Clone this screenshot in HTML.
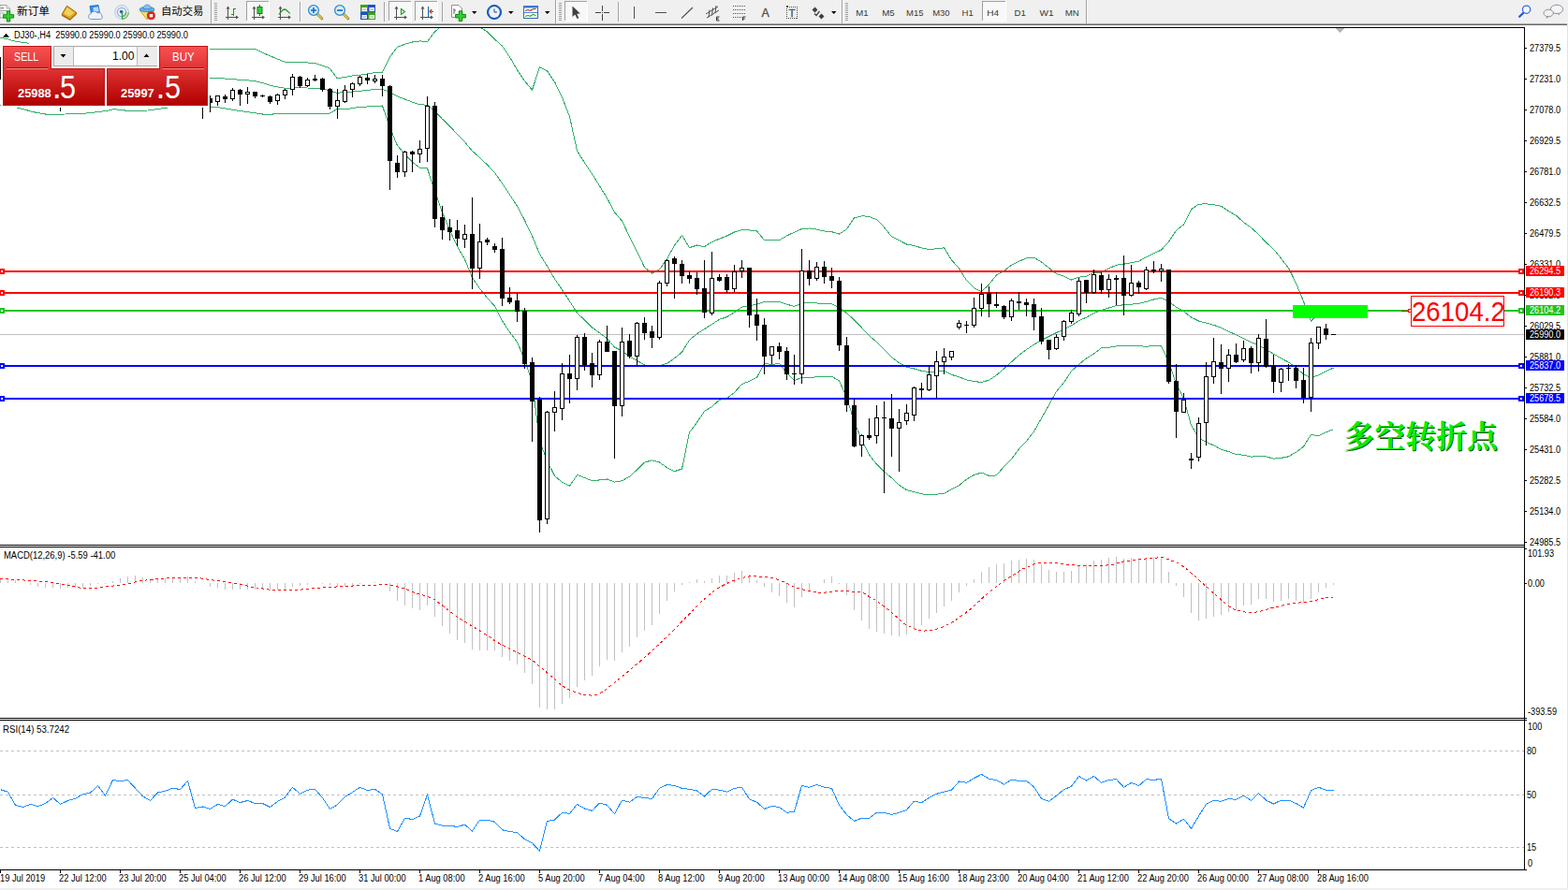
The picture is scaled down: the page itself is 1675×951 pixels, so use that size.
<!DOCTYPE html>
<html><head><meta charset="utf-8"><title>DJ30 H4</title>
<style>
html,body{margin:0;padding:0;background:#fff;overflow:hidden}
body{width:1675px;height:951px;position:relative;font-family:"Liberation Sans",sans-serif}
.t{position:absolute;white-space:nowrap;font-family:"Liberation Sans",sans-serif}
.rb{position:absolute;box-sizing:border-box;border:1px solid #b81414}
</style></head><body>
<div style="position:absolute;left:0;top:0;width:1675px;height:25px;background:#f0f0f0"></div>
<div style="position:absolute;left:0;top:25px;width:1674px;height:1px;background:#a8a8a8"></div>
<div style="position:absolute;left:0;top:26px;width:1674px;height:1px;background:#696969"></div>
<div style="position:absolute;left:1674px;top:25px;width:1px;height:926px;background:#e3e3e3"></div>
<div style="position:absolute;left:0;top:949px;width:1675px;height:2px;background:#f0f0f0"></div>
<svg width="1675" height="26" viewBox="0 0 1675 26" style="position:absolute;left:0;top:0"><path d="M0,5.5 H7 L10.5,9 V19 H0 Z" fill="#fff" stroke="#a0a0a0" stroke-width="1"/><path d="M7,5.5 V9 H10.5" fill="#e8e8e8" stroke="#a0a0a0" stroke-width="0.8"/><rect x="1" y="8" width="3" height="1.2" fill="#808080"/><rect x="1" y="11" width="6" height="1" fill="#a0a0a0"/><rect x="1" y="13.5" width="4" height="1" fill="#a0a0a0"/><path d="M7.3,11.8 h3.4 v3.9 h3.9 v3.4 h-3.9 v3.9 h-3.4 v-3.9 h-3.9 v-3.4 h3.9 z" fill="#30d030" stroke="#0a8a0a" stroke-width="1"/><text x="18" y="15.7" font-family="'Liberation Sans','Noto Sans CJK SC',sans-serif" font-size="11.7" fill="#000" textLength="35" lengthAdjust="spacingAndGlyphs">新订单</text><path d="M71.5,6.3 L82,13.8 L74.8,20.6 L66,15.5 Z" fill="#e0a828" stroke="#986808" stroke-width="1"/><path d="M71.8,8 L79.5,13.6 L74.2,17.6 L68.2,14.6 Z" fill="#f4d058"/><path d="M66,15.5 L74.8,20.6 L82,13.8 L82,15.2 L74.8,22 L66,16.9 Z" fill="#a87010"/><path d="M96,6.5 L105,5.5 L106.5,14 L97.5,15 Z" fill="#3090f0" stroke="#1060c0" stroke-width="0.8"/><path d="M99.5,8 L105,7.3 L105.6,12.3 L100,13 Z" fill="#b8dcff"/><path d="M96.5,20.5 a3,3 0 0 1 0.5,-5.8 a4,4 0 0 1 7,-0.8 a3.3,3.3 0 0 1 4.8,3.2 a2.2,2.2 0 0 1 -1,3.4 Z" fill="#eef3fa" stroke="#7090c0" stroke-width="0.9"/><circle cx="130" cy="13" r="7.3" fill="none" stroke="#b8d0ec" stroke-width="1.2"/><circle cx="130" cy="13" r="4.6" fill="none" stroke="#88b0e0" stroke-width="1.3"/><path d="M130.8,20.3 a7.3,7.3 0 0 0 6.5,-7.3" fill="none" stroke="#80c080" stroke-width="1.5"/><path d="M130.8,17.6 a4.6,4.6 0 0 0 3.8,-4.6" fill="none" stroke="#60b060" stroke-width="1.4"/><circle cx="129.6" cy="12.6" r="1.8" fill="#2860c8"/><rect x="129.9" y="13.2" width="1.5" height="7.6" fill="#30b030"/><path d="M149.5,11.5 L164.8,11.5 L157,20.8 Z" fill="#f8de68" stroke="#c89818" stroke-width="0.9"/><ellipse cx="157" cy="10" rx="7.9" ry="2.7" fill="#68b0e4" stroke="#3884c4" stroke-width="0.8"/><path d="M153,9.6 a4.2,4.6 0 0 1 8.4,0 Z" fill="#80c4f0" stroke="#3884c4" stroke-width="0.7"/><circle cx="161.4" cy="16.7" r="4.1" fill="#e02818" stroke="#a81008" stroke-width="0.6"/><rect x="159.7" y="15" width="3.5" height="3.4" fill="#fff"/><text x="172" y="15.7" font-family="'Liberation Sans','Noto Sans CJK SC',sans-serif" font-size="11.5" fill="#000" textLength="45.5" lengthAdjust="spacingAndGlyphs">自动交易</text><rect x="225" y="0" width="1" height="25" fill="#a0a0a0"/><rect x="226" y="0" width="1" height="25" fill="#fff"/><rect x="229" y="3" width="3" height="1" fill="#a0a0a0"/><rect x="229" y="5" width="3" height="1" fill="#a0a0a0"/><rect x="229" y="7" width="3" height="1" fill="#a0a0a0"/><rect x="229" y="9" width="3" height="1" fill="#a0a0a0"/><rect x="229" y="11" width="3" height="1" fill="#a0a0a0"/><rect x="229" y="13" width="3" height="1" fill="#a0a0a0"/><rect x="229" y="15" width="3" height="1" fill="#a0a0a0"/><rect x="229" y="17" width="3" height="1" fill="#a0a0a0"/><rect x="229" y="19" width="3" height="1" fill="#a0a0a0"/><rect x="229" y="21" width="3" height="1" fill="#a0a0a0"/><g shape-rendering="crispEdges"><rect x="243" y="8" width="1" height="13" fill="#505050"/><rect x="241" y="18" width="13" height="1" fill="#505050"/></g><polygon points="243.5,6.5 241.5,9.5 245.5,9.5" fill="#505050"/><polygon points="255,18.5 252,16.5 252,20.5" fill="#505050"/><g shape-rendering="crispEdges"><rect x="249" y="9" width="1.2" height="7.5" fill="#209020"/><rect x="250" y="9.3" width="2" height="1.1" fill="#209020"/><rect x="247.4" y="15.2" width="2.4" height="1.1" fill="#209020"/></g><rect x="263" y="1" width="25" height="22" fill="#f8f8f8"/><rect x="263" y="1" width="25" height="1" fill="#a0a0a0"/><rect x="263" y="1" width="1" height="22" fill="#a0a0a0"/><rect x="263" y="22" width="25" height="1" fill="#fff"/><rect x="287" y="1" width="1" height="22" fill="#fff"/><g shape-rendering="crispEdges"><rect x="271" y="8" width="1" height="13" fill="#505050"/><rect x="269" y="18" width="13" height="1" fill="#505050"/></g><polygon points="271.5,6.5 269.5,9.5 273.5,9.5" fill="#505050"/><polygon points="283,18.5 280,16.5 280,20.5" fill="#505050"/><rect x="277" y="5" width="1" height="12" fill="#108010"/><rect x="275" y="7.5" width="5" height="7" fill="#30d040" stroke="#108010" stroke-width="1"/><g shape-rendering="crispEdges"><rect x="299" y="8" width="1" height="13" fill="#505050"/><rect x="297" y="18" width="13" height="1" fill="#505050"/></g><polygon points="299.5,6.5 297.5,9.5 301.5,9.5" fill="#505050"/><polygon points="311,18.5 308,16.5 308,20.5" fill="#505050"/><path d="M298,15.5 C301,11 303.5,9 305.5,10.5 S309,14.5 310,14" fill="none" stroke="#209020" stroke-width="1.3"/><rect x="320" y="2" width="1" height="21" fill="#a0a0a0"/><rect x="321" y="2" width="1" height="21" fill="#fff"/><line x1="338.5" y1="14.5" x2="343.8" y2="19.8" stroke="#a88820" stroke-width="3" stroke-linecap="round"/><line x1="339" y1="15" x2="343.5" y2="19.5" stroke="#e8d060" stroke-width="1.2" stroke-linecap="round"/><circle cx="335" cy="11" r="5.4" fill="#d8ecf8" stroke="#3088d0" stroke-width="1.3"/><rect x="332" y="10.2" width="6" height="1.7" fill="#2070c0"/><rect x="334.15" y="8" width="1.7" height="6" fill="#2070c0"/><line x1="366.5" y1="14.5" x2="371.8" y2="19.8" stroke="#a88820" stroke-width="3" stroke-linecap="round"/><line x1="367" y1="15" x2="371.5" y2="19.5" stroke="#e8d060" stroke-width="1.2" stroke-linecap="round"/><circle cx="363" cy="11" r="5.4" fill="#d8ecf8" stroke="#3088d0" stroke-width="1.3"/><rect x="360" y="10.2" width="6" height="1.7" fill="#2070c0"/><rect x="385" y="5" width="8" height="8" fill="#40a020"/><rect x="393" y="5" width="8" height="8" fill="#2050c8"/><rect x="385" y="13" width="8" height="8" fill="#2050c8"/><rect x="393" y="13" width="8" height="8" fill="#40a020"/><rect x="386.5" y="8" width="5.5" height="4" fill="#fff" opacity="0.92"/><rect x="387.5" y="9.6" width="3.5" height="0.9" fill="#7aa"/><rect x="394.5" y="8" width="5.5" height="4" fill="#fff" opacity="0.92"/><rect x="395.5" y="9.6" width="3.5" height="0.9" fill="#7aa"/><rect x="386.5" y="16" width="5.5" height="4" fill="#fff" opacity="0.92"/><rect x="387.5" y="17.6" width="3.5" height="0.9" fill="#7aa"/><rect x="394.5" y="16" width="5.5" height="4" fill="#fff" opacity="0.92"/><rect x="395.5" y="17.6" width="3.5" height="0.9" fill="#7aa"/><rect x="410" y="2" width="1" height="21" fill="#a0a0a0"/><rect x="411" y="2" width="1" height="21" fill="#fff"/><rect x="415" y="1" width="25" height="22" fill="#f8f8f8"/><rect x="415" y="1" width="25" height="1" fill="#a0a0a0"/><rect x="415" y="1" width="1" height="22" fill="#a0a0a0"/><rect x="415" y="22" width="25" height="1" fill="#fff"/><rect x="439" y="1" width="1" height="22" fill="#fff"/><g shape-rendering="crispEdges"><rect x="423" y="8" width="1" height="13" fill="#505050"/><rect x="421" y="18" width="13" height="1" fill="#505050"/></g><polygon points="423.5,6.5 421.5,9.5 425.5,9.5" fill="#505050"/><polygon points="435,18.5 432,16.5 432,20.5" fill="#505050"/><path d="M428.5,9.5 L432.5,12.5 L428.5,15.5 Z" fill="#e8f8e8" stroke="#20a020" stroke-width="1.1"/><rect x="443" y="1" width="25" height="22" fill="#f8f8f8"/><rect x="443" y="1" width="25" height="1" fill="#a0a0a0"/><rect x="443" y="1" width="1" height="22" fill="#a0a0a0"/><rect x="443" y="22" width="25" height="1" fill="#fff"/><rect x="467" y="1" width="1" height="22" fill="#fff"/><g shape-rendering="crispEdges"><rect x="451" y="8" width="1" height="13" fill="#505050"/><rect x="449" y="18" width="13" height="1" fill="#505050"/></g><polygon points="451.5,6.5 449.5,9.5 453.5,9.5" fill="#505050"/><polygon points="463,18.5 460,16.5 460,20.5" fill="#505050"/><rect x="457" y="7" width="1.2" height="11" fill="#2070b0"/><path d="M463,12.3 L459,12.3 M461.3,10 L459,12.3 L461.3,14.6" fill="none" stroke="#d04010" stroke-width="1.2"/><rect x="472" y="2" width="1" height="21" fill="#a0a0a0"/><rect x="473" y="2" width="1" height="21" fill="#fff"/><path d="M482.5,5.5 H490 L493.5,9 V18.5 H482.5 Z" fill="#fff" stroke="#909090" stroke-width="1"/><path d="M485,9 v6 M485,11 h2" stroke="#606060" stroke-width="1" fill="none"/><path d="M490.3,11.8 h3.4 v3.7 h3.7 v3.4 h-3.7 v3.7 h-3.4 v-3.7 h-3.7 v-3.4 h3.7 z" fill="#30d030" stroke="#0a8a0a" stroke-width="1"/><polygon points="504,12 509.5,12 506.75,15" fill="#000"/><circle cx="528" cy="13" r="7.6" fill="#1060c8"/><circle cx="528" cy="13" r="7.6" fill="none" stroke="#0848a0" stroke-width="0.8"/><circle cx="528" cy="13" r="5.9" fill="#eaf2fc"/><path d="M528,9.5 V13 H531" stroke="#404040" stroke-width="1" fill="none"/><polygon points="543,12 548.5,12 545.75,15" fill="#000"/><rect x="559.5" y="6.5" width="15" height="13" fill="#fff" stroke="#3068c0" stroke-width="1"/><rect x="559" y="6" width="16" height="2.5" fill="#3878d8"/><rect x="560" y="13" width="14" height="0.8" fill="#3068c0"/><path d="M561,11.5 l3,-1 l2.5,0.8 l3,-1.5 l3,-0.3" stroke="#b03020" stroke-width="1.1" fill="none"/><path d="M561,17.5 l3,-1 l2.5,0.8 l3,-2 l3,1.5" stroke="#20a030" stroke-width="1.1" fill="none"/><polygon points="582,12 587.5,12 584.75,15" fill="#000"/><rect x="593" y="0" width="1" height="25" fill="#a0a0a0"/><rect x="594" y="0" width="1" height="25" fill="#fff"/><rect x="597" y="3" width="3" height="1" fill="#a0a0a0"/><rect x="597" y="5" width="3" height="1" fill="#a0a0a0"/><rect x="597" y="7" width="3" height="1" fill="#a0a0a0"/><rect x="597" y="9" width="3" height="1" fill="#a0a0a0"/><rect x="597" y="11" width="3" height="1" fill="#a0a0a0"/><rect x="597" y="13" width="3" height="1" fill="#a0a0a0"/><rect x="597" y="15" width="3" height="1" fill="#a0a0a0"/><rect x="597" y="17" width="3" height="1" fill="#a0a0a0"/><rect x="597" y="19" width="3" height="1" fill="#a0a0a0"/><rect x="597" y="21" width="3" height="1" fill="#a0a0a0"/><rect x="603" y="1" width="25" height="22" fill="#f8f8f8"/><rect x="603" y="1" width="25" height="1" fill="#a0a0a0"/><rect x="603" y="1" width="1" height="22" fill="#a0a0a0"/><rect x="603" y="22" width="25" height="1" fill="#fff"/><rect x="627" y="1" width="1" height="22" fill="#fff"/><path d="M611.5,6.5 V18 L614.3,15.4 L616.5,20 L618.3,19.2 L616.2,14.8 L619.8,14.6 Z" fill="#404040"/><g shape-rendering="crispEdges"><rect x="643" y="6" width="1" height="16" fill="#404040"/><rect x="636" y="13" width="15" height="1" fill="#404040"/><rect x="642" y="12" width="3" height="3" fill="#f0f0f0"/><rect x="643" y="13" width="1" height="1" fill="#404040"/></g><rect x="660" y="2" width="1" height="21" fill="#a0a0a0"/><rect x="661" y="2" width="1" height="21" fill="#fff"/><g shape-rendering="crispEdges"><rect x="677" y="7" width="1" height="13" fill="#505050"/><rect x="700" y="13" width="12" height="1" fill="#505050"/></g><line x1="728" y1="19.5" x2="740" y2="8" stroke="#505050" stroke-width="1.1"/><g stroke="#505050" stroke-width="1" fill="none"><line x1="754" y1="15" x2="767" y2="7"/><line x1="755" y1="19" x2="768" y2="11"/><line x1="758" y1="10.5" x2="757" y2="18.5"/><line x1="761.5" y1="8.5" x2="760.5" y2="16.5"/><line x1="765" y1="6" x2="764" y2="14"/></g><path d="M765.5,18 h3 M765.5,18 v4 h3 M765.5,20 h2.4" stroke="#303030" stroke-width="1" fill="none"/><line x1="783" y1="6.5" x2="797" y2="6.5" stroke="#505050" stroke-width="1" stroke-dasharray="1 1" shape-rendering="crispEdges"/><line x1="783" y1="10.5" x2="797" y2="10.5" stroke="#505050" stroke-width="1" stroke-dasharray="1 1" shape-rendering="crispEdges"/><line x1="783" y1="14.5" x2="797" y2="14.5" stroke="#505050" stroke-width="1" stroke-dasharray="1 1" shape-rendering="crispEdges"/><line x1="783" y1="18.5" x2="797" y2="18.5" stroke="#505050" stroke-width="1" stroke-dasharray="1 1" shape-rendering="crispEdges"/><rect x="792" y="17" width="6" height="6" fill="#f0f0f0"/><path d="M793.5,22 v-4 h3 M793.5,20 h2.4" stroke="#303030" stroke-width="1" fill="none"/><text x="813.6" y="18" font-family="Liberation Sans" font-size="12.5" fill="#505050" stroke="#505050" stroke-width="0.3">A</text><rect x="840.5" y="7.5" width="11" height="12" fill="none" stroke="#505050" stroke-width="1" stroke-dasharray="1 1" shape-rendering="crispEdges"/><text x="842.6" y="18" font-family="Liberation Sans" font-size="11.5" fill="#505050" stroke="#505050" stroke-width="0.3">T</text><rect x="840" y="6" width="2" height="2" fill="#505050"/><path d="M867.5,10.5 l3,-3 l3,3 l-3,3 z" fill="#404040"/><path d="M874.5,17.5 l3,-3 l3,3 l-3,3 z" fill="#404040"/><path d="M870,14.5 l2,2 l3.5,-4.5" stroke="#404040" stroke-width="1.3" fill="none"/><polygon points="888,12 893.5,12 890.75,15" fill="#000"/><rect x="899" y="0" width="1" height="25" fill="#a0a0a0"/><rect x="900" y="0" width="1" height="25" fill="#fff"/><rect x="903" y="3" width="3" height="1" fill="#a0a0a0"/><rect x="903" y="5" width="3" height="1" fill="#a0a0a0"/><rect x="903" y="7" width="3" height="1" fill="#a0a0a0"/><rect x="903" y="9" width="3" height="1" fill="#a0a0a0"/><rect x="903" y="11" width="3" height="1" fill="#a0a0a0"/><rect x="903" y="13" width="3" height="1" fill="#a0a0a0"/><rect x="903" y="15" width="3" height="1" fill="#a0a0a0"/><rect x="903" y="17" width="3" height="1" fill="#a0a0a0"/><rect x="903" y="19" width="3" height="1" fill="#a0a0a0"/><rect x="903" y="21" width="3" height="1" fill="#a0a0a0"/><rect x="1049" y="1" width="26" height="22" fill="#f8f8f8"/><rect x="1049" y="1" width="26" height="1" fill="#a0a0a0"/><rect x="1049" y="1" width="1" height="22" fill="#a0a0a0"/><rect x="1049" y="22" width="26" height="1" fill="#fff"/><rect x="1074" y="1" width="1" height="22" fill="#fff"/><text x="914.3000000000001" y="16.9" font-family="Liberation Sans" font-size="9.4" fill="#383838" textLength="13.3" lengthAdjust="spacingAndGlyphs">M1</text><text x="942.2" y="16.9" font-family="Liberation Sans" font-size="9.4" fill="#383838" textLength="13.4" lengthAdjust="spacingAndGlyphs">M5</text><text x="968.1" y="16.9" font-family="Liberation Sans" font-size="9.4" fill="#383838" textLength="18.4" lengthAdjust="spacingAndGlyphs">M15</text><text x="996.2" y="16.9" font-family="Liberation Sans" font-size="9.4" fill="#383838" textLength="18.4" lengthAdjust="spacingAndGlyphs">M30</text><text x="1027.5" y="16.9" font-family="Liberation Sans" font-size="9.4" fill="#383838" textLength="12.2" lengthAdjust="spacingAndGlyphs">H1</text><text x="1054.1999999999998" y="16.9" font-family="Liberation Sans" font-size="9.4" fill="#383838" textLength="12.9" lengthAdjust="spacingAndGlyphs">H4</text><text x="1083.5" y="16.9" font-family="Liberation Sans" font-size="9.4" fill="#383838" textLength="12.2" lengthAdjust="spacingAndGlyphs">D1</text><text x="1110.6" y="16.9" font-family="Liberation Sans" font-size="9.4" fill="#383838" textLength="15.1" lengthAdjust="spacingAndGlyphs">W1</text><text x="1137.8" y="16.9" font-family="Liberation Sans" font-size="9.4" fill="#383838" textLength="15.0" lengthAdjust="spacingAndGlyphs">MN</text><rect x="1160" y="0" width="1" height="25" fill="#a0a0a0"/><rect x="1161" y="0" width="1" height="25" fill="#fff"/><line x1="1627.3" y1="13.7" x2="1623.2" y2="17.8" stroke="#2858d8" stroke-width="2.3" stroke-linecap="round"/><circle cx="1630.6" cy="10.2" r="4.1" fill="#f8f8ff" stroke="#3068e0" stroke-width="1.25"/><path d="M1665,14.3 l1.2,2.2 l-2.8,-2 Z" fill="#707070"/><ellipse cx="1663" cy="9.9" rx="6.6" ry="4.7" fill="#f4f4fa" stroke="#909090" stroke-width="1"/><path d="M1652.5,17.3 l-1,2.6 l3,-2.2 Z" fill="#707070"/><ellipse cx="1654.2" cy="14" rx="5.2" ry="3.8" fill="#f0f0f6" stroke="#909090" stroke-width="1"/></svg>
<svg width="1675" height="951" viewBox="0 0 1675 951" style="position:absolute;left:0;top:0" shape-rendering="crispEdges">
<defs><clipPath id="cm"><rect x="0" y="30" width="1628" height="552"/></clipPath></defs>
<rect x="0" y="357" width="1628" height="1" fill="#c0c0c0"/>
<g clip-path="url(#cm)"><g><polyline points="0.0,40.6 6.4,41.2 14.3,43.8 30.8,46.3 33.0,50.5 120.0,56.0 216.0,53.0 224.0,52.5 273.0,52.5 280.0,56.0 288.0,59.5 296.0,63.0 304.0,66.0 320.0,66.6 336.0,67.3 344.0,69.9 352.0,72.8 360.0,83.6 368.0,82.6 376.0,81.0 384.5,80.2 392.5,78.9 400.5,77.6 408.5,77.3 416.5,61.0 424.5,50.3 432.5,47.2 440.5,45.0 448.5,43.9 456.5,44.6 464.5,33.8 472.5,27.5 480.5,24.0 488.5,23.5 496.5,26.2 504.5,25.8 512.5,28.6 520.5,33.9 528.5,42.0 536.5,49.1 544.5,60.9 552.5,74.9 560.5,86.6 568.5,96.2 576.5,71.6 584.5,75.9 592.5,87.5 600.5,104.1 608.5,124.5 616.5,161.2 624.5,173.9 632.5,185.9 640.5,198.7 648.5,211.7 656.5,226.9 664.5,236.1 672.5,252.9 680.5,268.8 688.5,285.6 696.5,292.0 704.5,287.9 712.5,276.8 720.5,262.1 728.5,251.4 736.5,264.7 744.5,262.0 752.5,263.7 760.5,258.5 768.5,255.2 776.5,252.0 784.5,248.0 792.5,245.7 800.5,245.9 808.5,247.0 816.5,256.6 824.5,256.1 832.5,256.7 840.5,251.9 848.5,248.2 856.5,244.5 864.5,244.0 872.5,245.1 880.5,247.0 888.5,247.7 896.5,250.1 904.5,244.9 912.5,232.9 920.5,230.8 928.5,231.3 936.5,234.8 944.5,242.8 952.5,252.8 960.5,256.9 968.5,261.0 976.5,262.5 984.5,264.9 992.5,266.5 1000.5,265.8 1008.5,264.8 1016.5,277.9 1024.5,286.8 1032.5,299.7 1040.5,307.7 1048.5,311.6 1056.5,304.0 1064.5,293.8 1072.5,289.5 1080.5,283.2 1088.5,279.4 1096.5,275.7 1104.5,275.2 1112.5,280.0 1120.5,286.3 1128.5,292.6 1136.5,295.2 1144.5,299.0 1152.5,296.2 1160.5,295.4 1168.5,291.3 1176.5,291.0 1184.5,286.8 1192.5,283.2 1200.5,282.2 1208.5,280.7 1216.5,279.1 1224.5,274.6 1232.5,270.7 1240.5,267.1 1248.5,258.2 1256.5,246.2 1264.5,239.9 1272.5,223.7 1280.5,218.2 1288.5,217.8 1296.5,218.7 1304.5,220.3 1312.5,225.7 1320.5,230.2 1328.5,237.5 1336.5,243.3 1344.5,250.4 1352.5,259.2 1360.5,266.2 1368.5,276.2 1376.5,286.4 1384.5,302.7 1392.5,322.1 1400.5,343.0 1408.5,335.7 1416.5,331.5 1424.5,327.5" fill="none" stroke="#32ae68" stroke-width="1" /><polyline points="0.0,78.0 100.0,80.0 224.0,83.6 240.0,84.0 256.0,85.2 272.0,86.5 280.0,88.5 288.0,91.0 296.0,92.9 304.0,94.2 312.0,94.4 320.0,93.0 328.0,94.0 344.0,94.4 352.0,97.0 360.0,99.3 368.0,98.6 376.0,98.0 384.5,97.3 392.5,96.4 400.5,95.4 408.5,95.2 416.5,98.7 424.5,102.9 432.5,106.0 440.5,109.1 448.5,111.7 456.5,112.2 464.5,119.1 472.5,127.2 480.5,135.0 488.5,143.4 496.5,151.7 504.5,161.3 512.5,168.5 520.5,176.1 528.5,184.5 536.5,196.0 544.5,207.9 552.5,220.3 560.5,235.4 568.5,252.3 576.5,271.5 584.5,284.3 592.5,298.0 600.5,309.7 608.5,321.9 616.5,334.3 624.5,342.1 632.5,349.9 640.5,355.8 648.5,361.8 656.5,371.0 664.5,374.9 672.5,381.0 680.5,385.4 688.5,389.8 696.5,391.9 704.5,390.9 712.5,388.3 720.5,382.9 728.5,376.2 736.5,363.3 744.5,356.7 752.5,351.6 760.5,346.5 768.5,341.3 776.5,338.7 784.5,333.8 792.5,328.1 800.5,326.6 808.5,325.2 816.5,322.5 824.5,322.8 832.5,322.5 840.5,325.2 848.5,327.4 856.5,323.9 864.5,323.6 872.5,324.0 880.5,324.7 888.5,324.9 896.5,328.5 904.5,334.7 912.5,341.8 920.5,350.2 928.5,358.6 936.5,365.5 944.5,373.3 952.5,381.8 960.5,387.6 968.5,392.3 976.5,394.0 984.5,396.3 992.5,397.6 1000.5,397.0 1008.5,396.1 1016.5,400.4 1024.5,402.8 1032.5,405.9 1040.5,407.6 1048.5,408.4 1056.5,406.2 1064.5,400.9 1072.5,394.0 1080.5,386.8 1088.5,379.6 1096.5,373.5 1104.5,368.1 1112.5,363.5 1120.5,359.5 1128.5,355.5 1136.5,351.9 1144.5,347.8 1152.5,342.8 1160.5,339.1 1168.5,334.7 1176.5,331.4 1184.5,329.0 1192.5,326.6 1200.5,325.8 1208.5,325.2 1216.5,324.4 1224.5,322.5 1232.5,320.0 1240.5,318.3 1248.5,322.5 1256.5,328.2 1264.5,332.7 1272.5,339.1 1280.5,343.0 1288.5,345.1 1296.5,347.3 1304.5,350.2 1312.5,354.2 1320.5,357.8 1328.5,361.8 1336.5,365.8 1344.5,368.9 1352.5,373.6 1360.5,378.2 1368.5,382.8 1376.5,387.1 1384.5,393.0 1392.5,399.7 1400.5,403.7 1408.5,400.8 1416.5,396.7 1424.5,393.1" fill="none" stroke="#32ae68" stroke-width="1" /><polyline points="0.0,112.5 3.0,111.8 16.0,112.6 18.6,115.1 35.8,119.7 50.2,122.3 70.0,122.0 91.7,121.1 114.6,118.3 121.8,116.6 136.0,118.3 157.6,118.0 179.0,115.1 190.0,113.0 200.0,111.0 212.0,111.5 224.0,114.1 232.0,114.6 252.0,117.8 268.0,120.2 286.0,122.8 295.0,121.5 340.0,121.5 352.0,121.2 360.0,116.6 371.0,116.6 376.0,115.6 384.5,114.3 392.5,114.0 400.5,113.2 408.5,113.0 416.5,136.4 424.5,155.6 432.5,164.7 440.5,173.2 448.5,179.4 456.5,179.9 464.5,204.3 472.5,226.9 480.5,246.0 488.5,263.4 496.5,277.2 504.5,296.8 512.5,308.4 520.5,318.3 528.5,327.1 536.5,342.8 544.5,355.0 552.5,365.6 560.5,384.3 568.5,408.3 576.5,471.3 584.5,492.7 592.5,508.5 600.5,515.4 608.5,519.4 616.5,507.5 624.5,510.4 632.5,513.8 640.5,512.9 648.5,512.0 656.5,515.1 664.5,513.8 672.5,509.2 680.5,502.0 688.5,494.1 696.5,491.9 704.5,494.0 712.5,499.7 720.5,503.7 728.5,501.0 736.5,462.0 744.5,451.4 752.5,439.5 760.5,434.5 768.5,427.4 776.5,425.4 784.5,419.5 792.5,410.5 800.5,407.3 808.5,403.4 816.5,388.5 824.5,389.5 832.5,388.3 840.5,398.5 848.5,406.7 856.5,403.3 864.5,403.3 872.5,402.9 880.5,402.3 888.5,402.2 896.5,406.9 904.5,424.5 912.5,450.8 920.5,469.7 928.5,485.9 936.5,496.2 944.5,503.8 952.5,510.8 960.5,518.3 968.5,523.6 976.5,525.6 984.5,527.8 992.5,528.7 1000.5,528.1 1008.5,527.4 1016.5,522.8 1024.5,518.8 1032.5,512.1 1040.5,507.5 1048.5,505.1 1056.5,508.4 1064.5,507.9 1072.5,498.5 1080.5,490.4 1088.5,479.8 1096.5,471.4 1104.5,461.1 1112.5,446.9 1120.5,432.8 1128.5,418.3 1136.5,408.7 1144.5,396.6 1152.5,389.4 1160.5,382.9 1168.5,378.1 1176.5,371.8 1184.5,371.3 1192.5,369.9 1200.5,369.5 1208.5,369.8 1216.5,369.6 1224.5,370.3 1232.5,369.3 1240.5,369.6 1248.5,386.9 1256.5,410.3 1264.5,425.5 1272.5,454.4 1280.5,467.8 1288.5,472.5 1296.5,475.8 1304.5,480.2 1312.5,482.6 1320.5,485.5 1328.5,486.2 1336.5,488.2 1344.5,487.4 1352.5,487.9 1360.5,490.1 1368.5,489.4 1376.5,487.8 1384.5,483.2 1392.5,477.3 1400.5,464.3 1408.5,465.8 1416.5,461.8 1424.5,458.8" fill="none" stroke="#32ae68" stroke-width="1" /></g>
<rect x="0" y="289" width="1628" height="2" fill="#ff0000"/>
<rect x="-1" y="287" width="6" height="6" fill="#ff0000"/><rect x="1" y="289" width="2" height="2" fill="#fff"/>
<rect x="1622" y="287" width="6" height="6" fill="#ff0000"/><rect x="1624" y="289" width="2" height="2" fill="#fff"/>
<rect x="0" y="312" width="1628" height="2" fill="#ff0000"/>
<rect x="-1" y="310" width="6" height="6" fill="#ff0000"/><rect x="1" y="312" width="2" height="2" fill="#fff"/>
<rect x="1622" y="310" width="6" height="6" fill="#ff0000"/><rect x="1624" y="312" width="2" height="2" fill="#fff"/>
<rect x="0" y="331" width="1628" height="2" fill="#22c322"/>
<rect x="-1" y="329" width="6" height="6" fill="#22c322"/><rect x="1" y="331" width="2" height="2" fill="#fff"/>
<rect x="1622" y="329" width="6" height="6" fill="#22c322"/><rect x="1624" y="331" width="2" height="2" fill="#fff"/>
<rect x="0" y="390" width="1628" height="2" fill="#0000ff"/>
<rect x="-1" y="388" width="6" height="6" fill="#0000ff"/><rect x="1" y="390" width="2" height="2" fill="#fff"/>
<rect x="1622" y="388" width="6" height="6" fill="#0000ff"/><rect x="1624" y="390" width="2" height="2" fill="#fff"/>
<rect x="0" y="425" width="1628" height="2" fill="#0000ff"/>
<rect x="-1" y="423" width="6" height="6" fill="#0000ff"/><rect x="1" y="425" width="2" height="2" fill="#fff"/>
<rect x="1622" y="423" width="6" height="6" fill="#0000ff"/><rect x="1624" y="425" width="2" height="2" fill="#fff"/>
<rect x="224" y="102" width="1" height="18" fill="#000"/>
<rect x="222" y="105" width="5" height="5" fill="#000"/>
<rect x="232" y="102" width="1" height="11" fill="#000"/>
<rect x="230" y="102" width="5" height="7" fill="#000"/>
<rect x="231" y="103" width="3" height="5" fill="#fff"/>
<rect x="240" y="101" width="1" height="9" fill="#000"/>
<rect x="238" y="103" width="5" height="3" fill="#000"/>
<rect x="248" y="94" width="1" height="14" fill="#000"/>
<rect x="246" y="96" width="5" height="10" fill="#000"/>
<rect x="247" y="97" width="3" height="8" fill="#fff"/>
<rect x="256" y="95" width="1" height="18" fill="#000"/>
<rect x="254" y="96" width="5" height="5" fill="#000"/>
<rect x="264" y="93" width="1" height="18" fill="#000"/>
<rect x="262" y="98" width="5" height="3" fill="#000"/>
<rect x="263" y="99" width="3" height="1" fill="#fff"/>
<rect x="272" y="98" width="1" height="7" fill="#000"/>
<rect x="270" y="98" width="5" height="5" fill="#000"/>
<rect x="280" y="101" width="1" height="3" fill="#000"/>
<rect x="278" y="102" width="5" height="1" fill="#000"/>
<rect x="288" y="102" width="1" height="9" fill="#000"/>
<rect x="286" y="103" width="5" height="6" fill="#000"/>
<rect x="296" y="100" width="1" height="12" fill="#000"/>
<rect x="294" y="101" width="5" height="7" fill="#000"/>
<rect x="295" y="102" width="3" height="5" fill="#fff"/>
<rect x="304" y="95" width="1" height="11" fill="#000"/>
<rect x="302" y="96" width="5" height="6" fill="#000"/>
<rect x="303" y="97" width="3" height="4" fill="#fff"/>
<rect x="312" y="79" width="1" height="23" fill="#000"/>
<rect x="310" y="82" width="5" height="14" fill="#000"/>
<rect x="311" y="83" width="3" height="12" fill="#fff"/>
<rect x="320" y="81" width="1" height="13" fill="#000"/>
<rect x="318" y="82" width="5" height="10" fill="#000"/>
<rect x="328" y="83" width="1" height="10" fill="#000"/>
<rect x="326" y="85" width="5" height="7" fill="#000"/>
<rect x="327" y="86" width="3" height="5" fill="#fff"/>
<rect x="336" y="80" width="1" height="7" fill="#000"/>
<rect x="334" y="84" width="5" height="2" fill="#000"/>
<rect x="344" y="83" width="1" height="15" fill="#000"/>
<rect x="342" y="84" width="5" height="12" fill="#000"/>
<rect x="352" y="94" width="1" height="23" fill="#000"/>
<rect x="350" y="95" width="5" height="19" fill="#000"/>
<rect x="360" y="95" width="1" height="32" fill="#000"/>
<rect x="358" y="107" width="5" height="7" fill="#000"/>
<rect x="359" y="108" width="3" height="5" fill="#fff"/>
<rect x="368" y="91" width="1" height="19" fill="#000"/>
<rect x="366" y="96" width="5" height="13" fill="#000"/>
<rect x="367" y="97" width="3" height="11" fill="#fff"/>
<rect x="376" y="88" width="1" height="16" fill="#000"/>
<rect x="374" y="89" width="5" height="7" fill="#000"/>
<rect x="375" y="90" width="3" height="5" fill="#fff"/>
<rect x="384" y="81" width="1" height="11" fill="#000"/>
<rect x="382" y="82" width="5" height="8" fill="#000"/>
<rect x="383" y="83" width="3" height="6" fill="#fff"/>
<rect x="392" y="79" width="1" height="11" fill="#000"/>
<rect x="390" y="83" width="5" height="3" fill="#000"/>
<rect x="400" y="80" width="1" height="9" fill="#000"/>
<rect x="398" y="84" width="5" height="3" fill="#000"/>
<rect x="399" y="85" width="3" height="1" fill="#fff"/>
<rect x="408" y="80" width="1" height="23" fill="#000"/>
<rect x="406" y="84" width="5" height="8" fill="#000"/>
<rect x="416" y="91" width="1" height="112" fill="#000"/>
<rect x="414" y="92" width="5" height="80" fill="#000"/>
<rect x="424" y="166" width="1" height="24" fill="#000"/>
<rect x="422" y="174" width="5" height="10" fill="#000"/>
<rect x="432" y="161" width="1" height="28" fill="#000"/>
<rect x="430" y="162" width="5" height="22" fill="#000"/>
<rect x="431" y="163" width="3" height="20" fill="#fff"/>
<rect x="440" y="161" width="1" height="23" fill="#000"/>
<rect x="438" y="162" width="5" height="3" fill="#000"/>
<rect x="448" y="150" width="1" height="24" fill="#000"/>
<rect x="446" y="159" width="5" height="6" fill="#000"/>
<rect x="447" y="160" width="3" height="4" fill="#fff"/>
<rect x="456" y="103" width="1" height="70" fill="#000"/>
<rect x="454" y="113" width="5" height="46" fill="#000"/>
<rect x="455" y="114" width="3" height="44" fill="#fff"/>
<rect x="464" y="109" width="1" height="134" fill="#000"/>
<rect x="462" y="113" width="5" height="121" fill="#000"/>
<rect x="472" y="220" width="1" height="36" fill="#000"/>
<rect x="470" y="232" width="5" height="14" fill="#000"/>
<rect x="480" y="234" width="1" height="23" fill="#000"/>
<rect x="478" y="243" width="5" height="5" fill="#000"/>
<rect x="488" y="235" width="1" height="28" fill="#000"/>
<rect x="486" y="246" width="5" height="9" fill="#000"/>
<rect x="496" y="240" width="1" height="25" fill="#000"/>
<rect x="494" y="250" width="5" height="6" fill="#000"/>
<rect x="495" y="251" width="3" height="4" fill="#fff"/>
<rect x="504" y="211" width="1" height="98" fill="#000"/>
<rect x="502" y="250" width="5" height="37" fill="#000"/>
<rect x="512" y="239" width="1" height="59" fill="#000"/>
<rect x="510" y="258" width="5" height="29" fill="#000"/>
<rect x="511" y="259" width="3" height="27" fill="#fff"/>
<rect x="520" y="254" width="1" height="8" fill="#000"/>
<rect x="518" y="256" width="5" height="3" fill="#000"/>
<rect x="528" y="260" width="1" height="10" fill="#000"/>
<rect x="526" y="263" width="5" height="4" fill="#000"/>
<rect x="536" y="254" width="1" height="73" fill="#000"/>
<rect x="534" y="266" width="5" height="53" fill="#000"/>
<rect x="544" y="307" width="1" height="18" fill="#000"/>
<rect x="542" y="318" width="5" height="5" fill="#000"/>
<rect x="552" y="313" width="1" height="31" fill="#000"/>
<rect x="550" y="321" width="5" height="12" fill="#000"/>
<rect x="560" y="329" width="1" height="65" fill="#000"/>
<rect x="558" y="332" width="5" height="57" fill="#000"/>
<rect x="568" y="382" width="1" height="90" fill="#000"/>
<rect x="566" y="387" width="5" height="42" fill="#000"/>
<rect x="576" y="424" width="1" height="145" fill="#000"/>
<rect x="574" y="427" width="5" height="129" fill="#000"/>
<rect x="584" y="439" width="1" height="121" fill="#000"/>
<rect x="582" y="440" width="5" height="115" fill="#000"/>
<rect x="583" y="441" width="3" height="113" fill="#fff"/>
<rect x="592" y="418" width="1" height="43" fill="#000"/>
<rect x="590" y="435" width="5" height="6" fill="#000"/>
<rect x="591" y="436" width="3" height="4" fill="#fff"/>
<rect x="600" y="388" width="1" height="61" fill="#000"/>
<rect x="598" y="399" width="5" height="38" fill="#000"/>
<rect x="599" y="400" width="3" height="36" fill="#fff"/>
<rect x="608" y="379" width="1" height="52" fill="#000"/>
<rect x="606" y="399" width="5" height="6" fill="#000"/>
<rect x="616" y="358" width="1" height="59" fill="#000"/>
<rect x="614" y="360" width="5" height="45" fill="#000"/>
<rect x="615" y="361" width="3" height="43" fill="#fff"/>
<rect x="624" y="356" width="1" height="40" fill="#000"/>
<rect x="622" y="360" width="5" height="30" fill="#000"/>
<rect x="632" y="377" width="1" height="37" fill="#000"/>
<rect x="630" y="388" width="5" height="13" fill="#000"/>
<rect x="640" y="363" width="1" height="43" fill="#000"/>
<rect x="638" y="365" width="5" height="36" fill="#000"/>
<rect x="639" y="366" width="3" height="34" fill="#fff"/>
<rect x="648" y="348" width="1" height="28" fill="#000"/>
<rect x="646" y="365" width="5" height="11" fill="#000"/>
<rect x="656" y="375" width="1" height="115" fill="#000"/>
<rect x="654" y="375" width="5" height="59" fill="#000"/>
<rect x="664" y="350" width="1" height="95" fill="#000"/>
<rect x="662" y="365" width="5" height="69" fill="#000"/>
<rect x="663" y="366" width="3" height="67" fill="#fff"/>
<rect x="672" y="357" width="1" height="26" fill="#000"/>
<rect x="670" y="364" width="5" height="17" fill="#000"/>
<rect x="680" y="344" width="1" height="46" fill="#000"/>
<rect x="678" y="345" width="5" height="36" fill="#000"/>
<rect x="679" y="346" width="3" height="34" fill="#fff"/>
<rect x="688" y="339" width="1" height="24" fill="#000"/>
<rect x="686" y="345" width="5" height="11" fill="#000"/>
<rect x="696" y="348" width="1" height="24" fill="#000"/>
<rect x="694" y="354" width="5" height="7" fill="#000"/>
<rect x="704" y="300" width="1" height="63" fill="#000"/>
<rect x="702" y="302" width="5" height="59" fill="#000"/>
<rect x="703" y="303" width="3" height="57" fill="#fff"/>
<rect x="712" y="277" width="1" height="29" fill="#000"/>
<rect x="710" y="278" width="5" height="25" fill="#000"/>
<rect x="711" y="279" width="3" height="23" fill="#fff"/>
<rect x="720" y="274" width="1" height="45" fill="#000"/>
<rect x="718" y="276" width="5" height="6" fill="#000"/>
<rect x="728" y="278" width="1" height="25" fill="#000"/>
<rect x="726" y="282" width="5" height="13" fill="#000"/>
<rect x="736" y="290" width="1" height="13" fill="#000"/>
<rect x="734" y="294" width="5" height="4" fill="#000"/>
<rect x="744" y="291" width="1" height="24" fill="#000"/>
<rect x="742" y="297" width="5" height="12" fill="#000"/>
<rect x="752" y="278" width="1" height="62" fill="#000"/>
<rect x="750" y="308" width="5" height="26" fill="#000"/>
<rect x="760" y="269" width="1" height="68" fill="#000"/>
<rect x="758" y="297" width="5" height="38" fill="#000"/>
<rect x="759" y="298" width="3" height="36" fill="#fff"/>
<rect x="768" y="293" width="1" height="8" fill="#000"/>
<rect x="766" y="296" width="5" height="4" fill="#000"/>
<rect x="776" y="293" width="1" height="20" fill="#000"/>
<rect x="774" y="296" width="5" height="14" fill="#000"/>
<rect x="784" y="283" width="1" height="29" fill="#000"/>
<rect x="782" y="290" width="5" height="19" fill="#000"/>
<rect x="783" y="291" width="3" height="17" fill="#fff"/>
<rect x="792" y="278" width="1" height="19" fill="#000"/>
<rect x="790" y="286" width="5" height="4" fill="#000"/>
<rect x="791" y="287" width="3" height="2" fill="#fff"/>
<rect x="800" y="286" width="1" height="64" fill="#000"/>
<rect x="798" y="286" width="5" height="51" fill="#000"/>
<rect x="808" y="319" width="1" height="45" fill="#000"/>
<rect x="806" y="336" width="5" height="12" fill="#000"/>
<rect x="816" y="340" width="1" height="60" fill="#000"/>
<rect x="814" y="347" width="5" height="34" fill="#000"/>
<rect x="824" y="370" width="1" height="19" fill="#000"/>
<rect x="822" y="370" width="5" height="10" fill="#000"/>
<rect x="823" y="371" width="3" height="8" fill="#fff"/>
<rect x="832" y="366" width="1" height="18" fill="#000"/>
<rect x="830" y="370" width="5" height="6" fill="#000"/>
<rect x="840" y="371" width="1" height="35" fill="#000"/>
<rect x="838" y="375" width="5" height="25" fill="#000"/>
<rect x="848" y="379" width="1" height="32" fill="#000"/>
<rect x="846" y="399" width="5" height="1" fill="#000"/>
<rect x="856" y="266" width="1" height="144" fill="#000"/>
<rect x="854" y="289" width="5" height="111" fill="#000"/>
<rect x="855" y="290" width="3" height="109" fill="#fff"/>
<rect x="864" y="278" width="1" height="27" fill="#000"/>
<rect x="862" y="289" width="5" height="9" fill="#000"/>
<rect x="872" y="280" width="1" height="20" fill="#000"/>
<rect x="870" y="285" width="5" height="13" fill="#000"/>
<rect x="871" y="286" width="3" height="11" fill="#fff"/>
<rect x="880" y="279" width="1" height="24" fill="#000"/>
<rect x="878" y="285" width="5" height="11" fill="#000"/>
<rect x="888" y="286" width="1" height="22" fill="#000"/>
<rect x="886" y="295" width="5" height="5" fill="#000"/>
<rect x="896" y="296" width="1" height="79" fill="#000"/>
<rect x="894" y="300" width="5" height="69" fill="#000"/>
<rect x="904" y="360" width="1" height="80" fill="#000"/>
<rect x="902" y="369" width="5" height="64" fill="#000"/>
<rect x="912" y="426" width="1" height="52" fill="#000"/>
<rect x="910" y="433" width="5" height="44" fill="#000"/>
<rect x="920" y="464" width="1" height="24" fill="#000"/>
<rect x="918" y="465" width="5" height="11" fill="#000"/>
<rect x="919" y="466" width="3" height="9" fill="#fff"/>
<rect x="928" y="447" width="1" height="23" fill="#000"/>
<rect x="926" y="465" width="5" height="3" fill="#000"/>
<rect x="936" y="433" width="1" height="41" fill="#000"/>
<rect x="934" y="446" width="5" height="20" fill="#000"/>
<rect x="935" y="447" width="3" height="18" fill="#fff"/>
<rect x="944" y="429" width="1" height="98" fill="#000"/>
<rect x="942" y="446" width="5" height="1" fill="#000"/>
<rect x="952" y="421" width="1" height="67" fill="#000"/>
<rect x="950" y="447" width="5" height="11" fill="#000"/>
<rect x="960" y="437" width="1" height="67" fill="#000"/>
<rect x="958" y="451" width="5" height="7" fill="#000"/>
<rect x="959" y="452" width="3" height="5" fill="#fff"/>
<rect x="968" y="432" width="1" height="22" fill="#000"/>
<rect x="966" y="441" width="5" height="9" fill="#000"/>
<rect x="967" y="442" width="3" height="7" fill="#fff"/>
<rect x="976" y="413" width="1" height="37" fill="#000"/>
<rect x="974" y="414" width="5" height="30" fill="#000"/>
<rect x="975" y="415" width="3" height="28" fill="#fff"/>
<rect x="984" y="409" width="1" height="18" fill="#000"/>
<rect x="982" y="415" width="5" height="2" fill="#000"/>
<rect x="992" y="391" width="1" height="27" fill="#000"/>
<rect x="990" y="400" width="5" height="17" fill="#000"/>
<rect x="991" y="401" width="3" height="15" fill="#fff"/>
<rect x="1000" y="375" width="1" height="50" fill="#000"/>
<rect x="998" y="386" width="5" height="16" fill="#000"/>
<rect x="999" y="387" width="3" height="14" fill="#fff"/>
<rect x="1008" y="372" width="1" height="28" fill="#000"/>
<rect x="1006" y="381" width="5" height="6" fill="#000"/>
<rect x="1007" y="382" width="3" height="4" fill="#fff"/>
<rect x="1016" y="375" width="1" height="10" fill="#000"/>
<rect x="1014" y="375" width="5" height="7" fill="#000"/>
<rect x="1015" y="376" width="3" height="5" fill="#fff"/>
<rect x="1024" y="342" width="1" height="10" fill="#000"/>
<rect x="1022" y="345" width="5" height="5" fill="#000"/>
<rect x="1023" y="346" width="3" height="3" fill="#fff"/>
<rect x="1032" y="343" width="1" height="13" fill="#000"/>
<rect x="1030" y="347" width="5" height="1" fill="#000"/>
<rect x="1040" y="318" width="1" height="32" fill="#000"/>
<rect x="1038" y="329" width="5" height="19" fill="#000"/>
<rect x="1039" y="330" width="3" height="17" fill="#fff"/>
<rect x="1048" y="303" width="1" height="35" fill="#000"/>
<rect x="1046" y="314" width="5" height="16" fill="#000"/>
<rect x="1047" y="315" width="3" height="14" fill="#fff"/>
<rect x="1056" y="306" width="1" height="33" fill="#000"/>
<rect x="1054" y="313" width="5" height="12" fill="#000"/>
<rect x="1064" y="312" width="1" height="17" fill="#000"/>
<rect x="1062" y="325" width="5" height="2" fill="#000"/>
<rect x="1072" y="326" width="1" height="15" fill="#000"/>
<rect x="1070" y="327" width="5" height="12" fill="#000"/>
<rect x="1080" y="319" width="1" height="24" fill="#000"/>
<rect x="1078" y="321" width="5" height="18" fill="#000"/>
<rect x="1079" y="322" width="3" height="16" fill="#fff"/>
<rect x="1088" y="312" width="1" height="19" fill="#000"/>
<rect x="1086" y="322" width="5" height="2" fill="#000"/>
<rect x="1096" y="319" width="1" height="19" fill="#000"/>
<rect x="1094" y="323" width="5" height="3" fill="#000"/>
<rect x="1104" y="319" width="1" height="34" fill="#000"/>
<rect x="1102" y="325" width="5" height="14" fill="#000"/>
<rect x="1112" y="329" width="1" height="39" fill="#000"/>
<rect x="1110" y="338" width="5" height="27" fill="#000"/>
<rect x="1120" y="363" width="1" height="21" fill="#000"/>
<rect x="1118" y="363" width="5" height="11" fill="#000"/>
<rect x="1128" y="357" width="1" height="17" fill="#000"/>
<rect x="1126" y="360" width="5" height="13" fill="#000"/>
<rect x="1127" y="361" width="3" height="11" fill="#fff"/>
<rect x="1136" y="342" width="1" height="22" fill="#000"/>
<rect x="1134" y="343" width="5" height="17" fill="#000"/>
<rect x="1135" y="344" width="3" height="15" fill="#fff"/>
<rect x="1144" y="331" width="1" height="15" fill="#000"/>
<rect x="1142" y="334" width="5" height="10" fill="#000"/>
<rect x="1143" y="335" width="3" height="8" fill="#fff"/>
<rect x="1152" y="297" width="1" height="41" fill="#000"/>
<rect x="1150" y="300" width="5" height="36" fill="#000"/>
<rect x="1151" y="301" width="3" height="34" fill="#fff"/>
<rect x="1160" y="299" width="1" height="25" fill="#000"/>
<rect x="1158" y="299" width="5" height="14" fill="#000"/>
<rect x="1168" y="288" width="1" height="26" fill="#000"/>
<rect x="1166" y="293" width="5" height="20" fill="#000"/>
<rect x="1167" y="294" width="3" height="18" fill="#fff"/>
<rect x="1176" y="291" width="1" height="23" fill="#000"/>
<rect x="1174" y="294" width="5" height="16" fill="#000"/>
<rect x="1184" y="293" width="1" height="25" fill="#000"/>
<rect x="1182" y="298" width="5" height="12" fill="#000"/>
<rect x="1183" y="299" width="3" height="10" fill="#fff"/>
<rect x="1192" y="294" width="1" height="32" fill="#000"/>
<rect x="1190" y="297" width="5" height="2" fill="#000"/>
<rect x="1200" y="273" width="1" height="64" fill="#000"/>
<rect x="1198" y="297" width="5" height="19" fill="#000"/>
<rect x="1208" y="283" width="1" height="34" fill="#000"/>
<rect x="1206" y="302" width="5" height="14" fill="#000"/>
<rect x="1207" y="303" width="3" height="12" fill="#fff"/>
<rect x="1216" y="300" width="1" height="14" fill="#000"/>
<rect x="1214" y="302" width="5" height="5" fill="#000"/>
<rect x="1224" y="285" width="1" height="25" fill="#000"/>
<rect x="1222" y="288" width="5" height="21" fill="#000"/>
<rect x="1223" y="289" width="3" height="19" fill="#fff"/>
<rect x="1232" y="279" width="1" height="13" fill="#000"/>
<rect x="1230" y="288" width="5" height="2" fill="#000"/>
<rect x="1240" y="282" width="1" height="19" fill="#000"/>
<rect x="1238" y="287" width="5" height="3" fill="#000"/>
<rect x="1239" y="288" width="3" height="1" fill="#fff"/>
<rect x="1248" y="288" width="1" height="122" fill="#000"/>
<rect x="1246" y="288" width="5" height="120" fill="#000"/>
<rect x="1256" y="389" width="1" height="79" fill="#000"/>
<rect x="1254" y="407" width="5" height="33" fill="#000"/>
<rect x="1264" y="420" width="1" height="21" fill="#000"/>
<rect x="1262" y="427" width="5" height="14" fill="#000"/>
<rect x="1263" y="428" width="3" height="12" fill="#fff"/>
<rect x="1272" y="484" width="1" height="17" fill="#000"/>
<rect x="1270" y="490" width="5" height="2" fill="#000"/>
<rect x="1280" y="446" width="1" height="47" fill="#000"/>
<rect x="1278" y="452" width="5" height="37" fill="#000"/>
<rect x="1279" y="453" width="3" height="35" fill="#fff"/>
<rect x="1288" y="387" width="1" height="89" fill="#000"/>
<rect x="1286" y="402" width="5" height="50" fill="#000"/>
<rect x="1287" y="403" width="3" height="48" fill="#fff"/>
<rect x="1296" y="361" width="1" height="49" fill="#000"/>
<rect x="1294" y="386" width="5" height="17" fill="#000"/>
<rect x="1295" y="387" width="3" height="15" fill="#fff"/>
<rect x="1304" y="368" width="1" height="53" fill="#000"/>
<rect x="1302" y="387" width="5" height="7" fill="#000"/>
<rect x="1312" y="373" width="1" height="35" fill="#000"/>
<rect x="1310" y="379" width="5" height="15" fill="#000"/>
<rect x="1311" y="380" width="3" height="13" fill="#fff"/>
<rect x="1320" y="367" width="1" height="21" fill="#000"/>
<rect x="1318" y="379" width="5" height="8" fill="#000"/>
<rect x="1328" y="364" width="1" height="23" fill="#000"/>
<rect x="1326" y="372" width="5" height="13" fill="#000"/>
<rect x="1327" y="373" width="3" height="11" fill="#fff"/>
<rect x="1336" y="370" width="1" height="29" fill="#000"/>
<rect x="1334" y="372" width="5" height="16" fill="#000"/>
<rect x="1344" y="357" width="1" height="40" fill="#000"/>
<rect x="1342" y="361" width="5" height="27" fill="#000"/>
<rect x="1343" y="362" width="3" height="25" fill="#fff"/>
<rect x="1352" y="341" width="1" height="52" fill="#000"/>
<rect x="1350" y="362" width="5" height="30" fill="#000"/>
<rect x="1360" y="379" width="1" height="41" fill="#000"/>
<rect x="1358" y="391" width="5" height="17" fill="#000"/>
<rect x="1368" y="393" width="1" height="26" fill="#000"/>
<rect x="1366" y="394" width="5" height="15" fill="#000"/>
<rect x="1367" y="395" width="3" height="13" fill="#fff"/>
<rect x="1376" y="389" width="1" height="18" fill="#000"/>
<rect x="1374" y="393" width="5" height="1" fill="#000"/>
<rect x="1384" y="390" width="1" height="25" fill="#000"/>
<rect x="1382" y="393" width="5" height="14" fill="#000"/>
<rect x="1392" y="393" width="1" height="38" fill="#000"/>
<rect x="1390" y="406" width="5" height="19" fill="#000"/>
<rect x="1400" y="361" width="1" height="79" fill="#000"/>
<rect x="1398" y="366" width="5" height="59" fill="#000"/>
<rect x="1399" y="367" width="3" height="57" fill="#fff"/>
<rect x="1408" y="349" width="1" height="24" fill="#000"/>
<rect x="1406" y="349" width="5" height="18" fill="#000"/>
<rect x="1407" y="350" width="3" height="16" fill="#fff"/>
<rect x="1416" y="346" width="1" height="17" fill="#000"/>
<rect x="1414" y="351" width="5" height="7" fill="#000"/>
<rect x="1422" y="357" width="5" height="1" fill="#000"/>
<rect x="0" y="61" width="1" height="24" fill="#000"/>
<rect x="64" y="100" width="1" height="19" fill="#000"/>
<rect x="216" y="100" width="1" height="27" fill="#000"/>
<rect x="1381" y="326" width="80" height="14" fill="#00ff00"/></g>
<rect x="0" y="618" width="1" height="5" fill="#c0c0c0"/>
<rect x="8" y="619" width="1" height="4" fill="#c0c0c0"/>
<rect x="16" y="620" width="1" height="3" fill="#c0c0c0"/>
<rect x="32" y="623" width="1" height="2" fill="#c0c0c0"/>
<rect x="40" y="623" width="1" height="4" fill="#c0c0c0"/>
<rect x="48" y="623" width="1" height="5" fill="#c0c0c0"/>
<rect x="56" y="623" width="1" height="5" fill="#c0c0c0"/>
<rect x="64" y="623" width="1" height="6" fill="#c0c0c0"/>
<rect x="72" y="623" width="1" height="5" fill="#c0c0c0"/>
<rect x="80" y="623" width="1" height="5" fill="#c0c0c0"/>
<rect x="88" y="623" width="1" height="5" fill="#c0c0c0"/>
<rect x="96" y="623" width="1" height="3" fill="#c0c0c0"/>
<rect x="104" y="623" width="1" height="1" fill="#c0c0c0"/>
<rect x="112" y="623" width="1" height="1" fill="#c0c0c0"/>
<rect x="120" y="621" width="1" height="2" fill="#c0c0c0"/>
<rect x="128" y="618" width="1" height="5" fill="#c0c0c0"/>
<rect x="136" y="616" width="1" height="7" fill="#c0c0c0"/>
<rect x="144" y="615" width="1" height="8" fill="#c0c0c0"/>
<rect x="152" y="617" width="1" height="6" fill="#c0c0c0"/>
<rect x="160" y="619" width="1" height="4" fill="#c0c0c0"/>
<rect x="168" y="618" width="1" height="5" fill="#c0c0c0"/>
<rect x="176" y="618" width="1" height="5" fill="#c0c0c0"/>
<rect x="184" y="618" width="1" height="5" fill="#c0c0c0"/>
<rect x="192" y="617" width="1" height="6" fill="#c0c0c0"/>
<rect x="200" y="616" width="1" height="7" fill="#c0c0c0"/>
<rect x="208" y="621" width="1" height="2" fill="#c0c0c0"/>
<rect x="224" y="623" width="1" height="4" fill="#c0c0c0"/>
<rect x="232" y="623" width="1" height="5" fill="#c0c0c0"/>
<rect x="240" y="623" width="1" height="7" fill="#c0c0c0"/>
<rect x="248" y="623" width="1" height="7" fill="#c0c0c0"/>
<rect x="256" y="623" width="1" height="7" fill="#c0c0c0"/>
<rect x="264" y="623" width="1" height="7" fill="#c0c0c0"/>
<rect x="272" y="623" width="1" height="7" fill="#c0c0c0"/>
<rect x="280" y="623" width="1" height="7" fill="#c0c0c0"/>
<rect x="288" y="623" width="1" height="7" fill="#c0c0c0"/>
<rect x="296" y="623" width="1" height="7" fill="#c0c0c0"/>
<rect x="304" y="623" width="1" height="7" fill="#c0c0c0"/>
<rect x="312" y="623" width="1" height="4" fill="#c0c0c0"/>
<rect x="320" y="623" width="1" height="3" fill="#c0c0c0"/>
<rect x="328" y="623" width="1" height="2" fill="#c0c0c0"/>
<rect x="344" y="623" width="1" height="1" fill="#c0c0c0"/>
<rect x="352" y="623" width="1" height="3" fill="#c0c0c0"/>
<rect x="360" y="623" width="1" height="4" fill="#c0c0c0"/>
<rect x="368" y="623" width="1" height="3" fill="#c0c0c0"/>
<rect x="376" y="623" width="1" height="3" fill="#c0c0c0"/>
<rect x="384" y="623" width="1" height="1" fill="#c0c0c0"/>
<rect x="400" y="622" width="1" height="1" fill="#c0c0c0"/>
<rect x="416" y="623" width="1" height="9" fill="#c0c0c0"/>
<rect x="424" y="623" width="1" height="19" fill="#c0c0c0"/>
<rect x="432" y="623" width="1" height="24" fill="#c0c0c0"/>
<rect x="440" y="623" width="1" height="27" fill="#c0c0c0"/>
<rect x="448" y="623" width="1" height="29" fill="#c0c0c0"/>
<rect x="456" y="623" width="1" height="24" fill="#c0c0c0"/>
<rect x="464" y="623" width="1" height="36" fill="#c0c0c0"/>
<rect x="472" y="623" width="1" height="46" fill="#c0c0c0"/>
<rect x="480" y="623" width="1" height="54" fill="#c0c0c0"/>
<rect x="488" y="623" width="1" height="61" fill="#c0c0c0"/>
<rect x="496" y="623" width="1" height="64" fill="#c0c0c0"/>
<rect x="504" y="623" width="1" height="71" fill="#c0c0c0"/>
<rect x="512" y="623" width="1" height="72" fill="#c0c0c0"/>
<rect x="520" y="623" width="1" height="72" fill="#c0c0c0"/>
<rect x="528" y="623" width="1" height="72" fill="#c0c0c0"/>
<rect x="536" y="623" width="1" height="79" fill="#c0c0c0"/>
<rect x="544" y="623" width="1" height="83" fill="#c0c0c0"/>
<rect x="552" y="623" width="1" height="87" fill="#c0c0c0"/>
<rect x="560" y="623" width="1" height="96" fill="#c0c0c0"/>
<rect x="568" y="623" width="1" height="108" fill="#c0c0c0"/>
<rect x="576" y="623" width="1" height="133" fill="#c0c0c0"/>
<rect x="584" y="623" width="1" height="135" fill="#c0c0c0"/>
<rect x="592" y="623" width="1" height="135" fill="#c0c0c0"/>
<rect x="600" y="623" width="1" height="129" fill="#c0c0c0"/>
<rect x="608" y="623" width="1" height="123" fill="#c0c0c0"/>
<rect x="616" y="623" width="1" height="111" fill="#c0c0c0"/>
<rect x="624" y="623" width="1" height="104" fill="#c0c0c0"/>
<rect x="632" y="623" width="1" height="99" fill="#c0c0c0"/>
<rect x="640" y="623" width="1" height="89" fill="#c0c0c0"/>
<rect x="648" y="623" width="1" height="82" fill="#c0c0c0"/>
<rect x="656" y="623" width="1" height="83" fill="#c0c0c0"/>
<rect x="664" y="623" width="1" height="74" fill="#c0c0c0"/>
<rect x="672" y="623" width="1" height="68" fill="#c0c0c0"/>
<rect x="680" y="623" width="1" height="58" fill="#c0c0c0"/>
<rect x="688" y="623" width="1" height="51" fill="#c0c0c0"/>
<rect x="696" y="623" width="1" height="45" fill="#c0c0c0"/>
<rect x="704" y="623" width="1" height="33" fill="#c0c0c0"/>
<rect x="712" y="623" width="1" height="19" fill="#c0c0c0"/>
<rect x="720" y="623" width="1" height="9" fill="#c0c0c0"/>
<rect x="728" y="623" width="1" height="2" fill="#c0c0c0"/>
<rect x="736" y="622" width="1" height="1" fill="#c0c0c0"/>
<rect x="744" y="619" width="1" height="4" fill="#c0c0c0"/>
<rect x="752" y="621" width="1" height="2" fill="#c0c0c0"/>
<rect x="760" y="618" width="1" height="5" fill="#c0c0c0"/>
<rect x="768" y="615" width="1" height="8" fill="#c0c0c0"/>
<rect x="776" y="615" width="1" height="8" fill="#c0c0c0"/>
<rect x="784" y="612" width="1" height="11" fill="#c0c0c0"/>
<rect x="792" y="610" width="1" height="13" fill="#c0c0c0"/>
<rect x="800" y="614" width="1" height="9" fill="#c0c0c0"/>
<rect x="808" y="620" width="1" height="3" fill="#c0c0c0"/>
<rect x="816" y="623" width="1" height="4" fill="#c0c0c0"/>
<rect x="824" y="623" width="1" height="10" fill="#c0c0c0"/>
<rect x="832" y="623" width="1" height="14" fill="#c0c0c0"/>
<rect x="840" y="623" width="1" height="21" fill="#c0c0c0"/>
<rect x="848" y="623" width="1" height="26" fill="#c0c0c0"/>
<rect x="856" y="623" width="1" height="15" fill="#c0c0c0"/>
<rect x="864" y="623" width="1" height="9" fill="#c0c0c0"/>
<rect x="880" y="619" width="1" height="4" fill="#c0c0c0"/>
<rect x="888" y="616" width="1" height="7" fill="#c0c0c0"/>
<rect x="896" y="623" width="1" height="1" fill="#c0c0c0"/>
<rect x="904" y="623" width="1" height="13" fill="#c0c0c0"/>
<rect x="912" y="623" width="1" height="29" fill="#c0c0c0"/>
<rect x="920" y="623" width="1" height="40" fill="#c0c0c0"/>
<rect x="928" y="623" width="1" height="49" fill="#c0c0c0"/>
<rect x="936" y="623" width="1" height="52" fill="#c0c0c0"/>
<rect x="944" y="623" width="1" height="54" fill="#c0c0c0"/>
<rect x="952" y="623" width="1" height="56" fill="#c0c0c0"/>
<rect x="960" y="623" width="1" height="57" fill="#c0c0c0"/>
<rect x="968" y="623" width="1" height="55" fill="#c0c0c0"/>
<rect x="976" y="623" width="1" height="49" fill="#c0c0c0"/>
<rect x="984" y="623" width="1" height="45" fill="#c0c0c0"/>
<rect x="992" y="623" width="1" height="38" fill="#c0c0c0"/>
<rect x="1000" y="623" width="1" height="32" fill="#c0c0c0"/>
<rect x="1008" y="623" width="1" height="25" fill="#c0c0c0"/>
<rect x="1016" y="623" width="1" height="19" fill="#c0c0c0"/>
<rect x="1024" y="623" width="1" height="10" fill="#c0c0c0"/>
<rect x="1032" y="623" width="1" height="3" fill="#c0c0c0"/>
<rect x="1040" y="619" width="1" height="4" fill="#c0c0c0"/>
<rect x="1048" y="611" width="1" height="12" fill="#c0c0c0"/>
<rect x="1056" y="606" width="1" height="17" fill="#c0c0c0"/>
<rect x="1064" y="603" width="1" height="20" fill="#c0c0c0"/>
<rect x="1072" y="602" width="1" height="21" fill="#c0c0c0"/>
<rect x="1080" y="599" width="1" height="24" fill="#c0c0c0"/>
<rect x="1088" y="598" width="1" height="25" fill="#c0c0c0"/>
<rect x="1096" y="597" width="1" height="26" fill="#c0c0c0"/>
<rect x="1104" y="598" width="1" height="25" fill="#c0c0c0"/>
<rect x="1112" y="603" width="1" height="20" fill="#c0c0c0"/>
<rect x="1120" y="609" width="1" height="14" fill="#c0c0c0"/>
<rect x="1128" y="611" width="1" height="12" fill="#c0c0c0"/>
<rect x="1136" y="611" width="1" height="12" fill="#c0c0c0"/>
<rect x="1144" y="610" width="1" height="13" fill="#c0c0c0"/>
<rect x="1152" y="604" width="1" height="19" fill="#c0c0c0"/>
<rect x="1160" y="603" width="1" height="20" fill="#c0c0c0"/>
<rect x="1168" y="599" width="1" height="24" fill="#c0c0c0"/>
<rect x="1176" y="598" width="1" height="25" fill="#c0c0c0"/>
<rect x="1184" y="596" width="1" height="27" fill="#c0c0c0"/>
<rect x="1192" y="595" width="1" height="28" fill="#c0c0c0"/>
<rect x="1200" y="597" width="1" height="26" fill="#c0c0c0"/>
<rect x="1208" y="596" width="1" height="27" fill="#c0c0c0"/>
<rect x="1216" y="597" width="1" height="26" fill="#c0c0c0"/>
<rect x="1224" y="596" width="1" height="27" fill="#c0c0c0"/>
<rect x="1232" y="595" width="1" height="28" fill="#c0c0c0"/>
<rect x="1240" y="595" width="1" height="28" fill="#c0c0c0"/>
<rect x="1248" y="611" width="1" height="12" fill="#c0c0c0"/>
<rect x="1256" y="623" width="1" height="3" fill="#c0c0c0"/>
<rect x="1264" y="623" width="1" height="15" fill="#c0c0c0"/>
<rect x="1272" y="623" width="1" height="32" fill="#c0c0c0"/>
<rect x="1280" y="623" width="1" height="40" fill="#c0c0c0"/>
<rect x="1288" y="623" width="1" height="38" fill="#c0c0c0"/>
<rect x="1296" y="623" width="1" height="36" fill="#c0c0c0"/>
<rect x="1304" y="623" width="1" height="34" fill="#c0c0c0"/>
<rect x="1312" y="623" width="1" height="31" fill="#c0c0c0"/>
<rect x="1320" y="623" width="1" height="28" fill="#c0c0c0"/>
<rect x="1328" y="623" width="1" height="24" fill="#c0c0c0"/>
<rect x="1336" y="623" width="1" height="23" fill="#c0c0c0"/>
<rect x="1344" y="623" width="1" height="17" fill="#c0c0c0"/>
<rect x="1352" y="623" width="1" height="17" fill="#c0c0c0"/>
<rect x="1360" y="623" width="1" height="20" fill="#c0c0c0"/>
<rect x="1368" y="623" width="1" height="19" fill="#c0c0c0"/>
<rect x="1376" y="623" width="1" height="17" fill="#c0c0c0"/>
<rect x="1384" y="623" width="1" height="19" fill="#c0c0c0"/>
<rect x="1392" y="623" width="1" height="21" fill="#c0c0c0"/>
<rect x="1400" y="623" width="1" height="17" fill="#c0c0c0"/>
<rect x="1408" y="623" width="1" height="10" fill="#c0c0c0"/>
<rect x="1416" y="623" width="1" height="5" fill="#c0c0c0"/>
<rect x="1424" y="623" width="1" height="2" fill="#c0c0c0"/>
<polyline points="0.0,618.0 16.7,619.5 33.4,620.4 43.5,621.4 55.0,622.2 67.0,624.2 77.0,625.9 85.0,628.1 93.6,628.4 103.6,628.1 115.0,626.7 127.0,625.4 139.0,623.4 145.4,621.7 152.0,620.4 160.5,619.5 169.0,618.4 182.0,617.5 200.6,617.2 212.0,617.5 224.0,619.5 234.0,620.9 242.4,622.2 252.4,623.7 260.8,625.4 270.8,627.5 288.5,630.2 320.0,630.2 333.0,628.7 351.4,627.4 379.2,625.9 384.7,625.0 403.3,625.0 408.0,624.1 423.6,626.5 432.9,629.2 440.3,632.4 457.0,637.6 464.3,640.7 473.6,647.8 481.0,653.7 488.4,659.2 499.5,666.1 512.5,674.0 523.6,680.9 529.1,685.1 536.5,689.2 553.2,697.7 568.0,705.0 577.4,712.9 588.5,722.2 600.5,732.9 608.0,737.0 616.3,740.1 623.7,742.5 632.0,743.1 637.6,742.1 644.0,739.2 655.1,730.5 668.1,719.9 685.7,705.1 697.7,694.4 716.2,676.8 732.9,659.6 749.5,642.6 762.5,631.5 768.0,627.8 779.1,622.2 790.2,618.0 801.4,615.7 816.2,616.3 827.3,618.1 832.8,620.0 840.2,623.1 849.5,627.8 864.3,631.8 873.5,633.3 881.0,633.1 892.0,631.6 918.0,632.2 923.7,634.4 929.2,638.1 935.7,641.5 942.2,646.1 952.4,654.4 960.7,661.8 965.3,665.9 971.8,669.6 977.3,672.0 984.7,674.2 995.9,673.5 1001.4,672.0 1008.8,669.2 1018.0,664.6 1025.5,659.0 1031.0,655.3 1037.5,650.2 1044.0,644.2 1055.0,634.0 1062.5,628.5 1072.7,620.2 1079.1,616.5 1085.6,612.4 1092.0,608.1 1097.7,606.3 1104.0,603.1 1110.6,601.7 1129.0,601.3 1134.7,602.6 1151.3,604.1 1177.2,604.4 1188.5,603.5 1197.8,600.4 1216.3,597.6 1234.8,596.1 1242.2,595.2 1247.7,597.6 1258.8,602.0 1266.2,606.8 1277.3,616.5 1282.9,621.6 1290.3,628.5 1299.6,636.8 1312.5,647.9 1319.9,652.0 1329.2,653.9 1336.6,655.0 1347.7,652.9 1356.9,650.1 1369.9,647.0 1382.8,644.6 1401.4,642.4 1414.3,639.2 1423.6,638.3" fill="none" stroke="#ff0000" stroke-width="1" stroke-dasharray="3 3"/>
<line x1="0" y1="802.5" x2="1628" y2="802.5" stroke="#c0c0c0" stroke-width="1" stroke-dasharray="3 3"/>
<line x1="0" y1="849.5" x2="1628" y2="849.5" stroke="#c0c0c0" stroke-width="1" stroke-dasharray="3 3"/>
<line x1="0" y1="905.5" x2="1628" y2="905.5" stroke="#c0c0c0" stroke-width="1" stroke-dasharray="3 3"/>
<polyline points="0.5,843.7 8.5,846.3 16.5,860.3 24.5,862.5 32.5,859.4 40.5,861.6 48.5,858.5 56.5,852.4 64.5,859.4 72.5,855.5 80.5,853.3 88.5,848.7 96.5,847.2 104.5,839.4 112.5,850.0 120.5,833.5 128.5,834.8 136.5,833.5 144.5,842.2 152.5,850.9 160.5,855.5 168.5,846.8 176.5,845.3 184.5,842.2 192.5,843.5 200.5,834.4 208.5,863.5 216.5,862.0 224.5,864.4 232.5,859.4 240.5,861.6 248.5,854.2 256.5,857.5 264.5,855.5 272.5,858.5 280.5,858.5 288.5,862.5 296.5,856.4 304.5,852.0 312.5,841.3 320.5,848.3 328.5,844.2 336.5,843.3 344.5,852.6 352.5,864.4 360.5,859.8 368.5,851.4 376.5,846.5 384.5,841.3 392.5,844.6 400.5,843.3 408.5,848.9 416.5,885.3 424.5,888.5 432.5,874.2 440.5,875.5 448.5,872.0 456.5,849.2 464.5,880.1 472.5,882.2 480.5,882.2 488.5,883.5 496.5,881.1 504.5,888.1 512.5,876.1 520.5,876.1 528.5,878.3 536.5,886.8 544.5,888.5 552.5,889.6 560.5,896.8 568.5,900.7 576.5,909.4 584.5,877.5 592.5,876.1 600.5,868.3 608.5,869.4 616.5,859.4 624.5,864.0 632.5,866.3 640.5,858.1 648.5,860.3 656.5,869.6 664.5,855.1 672.5,857.2 680.5,851.4 688.5,852.4 696.5,853.5 704.5,842.2 712.5,838.5 720.5,839.4 728.5,842.4 736.5,843.3 744.5,845.0 752.5,851.1 760.5,843.3 768.5,844.2 776.5,846.1 784.5,842.4 792.5,841.3 800.5,853.9 808.5,857.2 816.5,864.4 824.5,861.3 832.5,862.6 840.5,868.3 848.5,867.2 856.5,839.4 864.5,841.3 872.5,838.5 880.5,841.3 888.5,842.4 896.5,860.3 904.5,870.5 912.5,877.4 920.5,874.2 928.5,874.2 936.5,868.3 944.5,868.3 952.5,870.5 960.5,868.3 968.5,865.3 976.5,856.1 984.5,857.6 992.5,852.4 1000.5,848.3 1008.5,846.1 1016.5,844.2 1024.5,835.0 1032.5,836.3 1040.5,831.6 1048.5,827.4 1056.5,832.2 1064.5,833.5 1072.5,838.1 1080.5,833.1 1088.5,834.4 1096.5,834.4 1104.5,840.9 1112.5,853.3 1120.5,856.3 1128.5,850.2 1136.5,843.7 1144.5,840.3 1152.5,829.4 1160.5,834.0 1168.5,829.4 1176.5,836.3 1184.5,833.5 1192.5,832.6 1200.5,841.3 1208.5,836.3 1216.5,839.6 1224.5,832.6 1232.5,833.5 1240.5,832.2 1248.5,874.6 1256.5,880.1 1264.5,875.1 1272.5,885.3 1280.5,872.0 1288.5,859.4 1296.5,855.3 1304.5,856.3 1312.5,853.5 1320.5,854.4 1328.5,850.2 1336.5,855.3 1344.5,847.4 1352.5,855.1 1360.5,859.0 1368.5,855.1 1376.5,855.1 1384.5,858.5 1392.5,863.1 1400.5,844.6 1408.5,841.3 1416.5,844.2 1424.5,844.2" fill="none" stroke="#1e90ff" stroke-width="1" />
<rect x="0" y="29" width="1629" height="1" fill="#000"/>
<rect x="1628" y="29" width="1" height="901" fill="#000"/>
<rect x="0" y="582" width="1629" height="1" fill="#000"/>
<rect x="0" y="584" width="1629" height="1" fill="#000"/>
<rect x="0" y="767" width="1629" height="1" fill="#000"/>
<rect x="0" y="769" width="1629" height="1" fill="#000"/>
<rect x="0" y="929" width="1629" height="1" fill="#000"/>
<rect x="1629" y="51" width="2" height="1" fill="#000"/>
<rect x="1629" y="84" width="2" height="1" fill="#000"/>
<rect x="1629" y="117" width="2" height="1" fill="#000"/>
<rect x="1629" y="150" width="2" height="1" fill="#000"/>
<rect x="1629" y="183" width="2" height="1" fill="#000"/>
<rect x="1629" y="216" width="2" height="1" fill="#000"/>
<rect x="1629" y="249" width="2" height="1" fill="#000"/>
<rect x="1629" y="282" width="2" height="1" fill="#000"/>
<rect x="1629" y="315" width="2" height="1" fill="#000"/>
<rect x="1629" y="348" width="2" height="1" fill="#000"/>
<rect x="1629" y="381" width="2" height="1" fill="#000"/>
<rect x="1629" y="414" width="2" height="1" fill="#000"/>
<rect x="1629" y="447" width="2" height="1" fill="#000"/>
<rect x="1629" y="480" width="2" height="1" fill="#000"/>
<rect x="1629" y="513" width="2" height="1" fill="#000"/>
<rect x="1629" y="546" width="2" height="1" fill="#000"/>
<rect x="1629" y="579" width="2" height="1" fill="#000"/>
<rect x="1629" y="586" width="2" height="1" fill="#000"/>
<rect x="1629" y="623" width="2" height="1" fill="#000"/>
<rect x="1629" y="767" width="2" height="1" fill="#000"/>
<rect x="1629" y="769" width="2" height="1" fill="#000"/>
<rect x="1629" y="929" width="2" height="1" fill="#000"/>
<rect x="0" y="930" width="1" height="3" fill="#000"/>
<rect x="64" y="930" width="1" height="3" fill="#000"/>
<rect x="128" y="930" width="1" height="3" fill="#000"/>
<rect x="192" y="930" width="1" height="3" fill="#000"/>
<rect x="256" y="930" width="1" height="3" fill="#000"/>
<rect x="320" y="930" width="1" height="3" fill="#000"/>
<rect x="384" y="930" width="1" height="3" fill="#000"/>
<rect x="448" y="930" width="1" height="3" fill="#000"/>
<rect x="512" y="930" width="1" height="3" fill="#000"/>
<rect x="576" y="930" width="1" height="3" fill="#000"/>
<rect x="640" y="930" width="1" height="3" fill="#000"/>
<rect x="704" y="930" width="1" height="3" fill="#000"/>
<rect x="768" y="930" width="1" height="3" fill="#000"/>
<rect x="832" y="930" width="1" height="3" fill="#000"/>
<rect x="896" y="930" width="1" height="3" fill="#000"/>
<rect x="960" y="930" width="1" height="3" fill="#000"/>
<rect x="1024" y="930" width="1" height="3" fill="#000"/>
<rect x="1088" y="930" width="1" height="3" fill="#000"/>
<rect x="1152" y="930" width="1" height="3" fill="#000"/>
<rect x="1216" y="930" width="1" height="3" fill="#000"/>
<rect x="1280" y="930" width="1" height="3" fill="#000"/>
<rect x="1344" y="930" width="1" height="3" fill="#000"/>
<rect x="1408" y="930" width="1" height="3" fill="#000"/>
<polygon points="1426,30 1436,30 1431,35" fill="#b4b4b4"/>
<rect x="1497" y="332" width="7" height="1" fill="#ff0000"/><rect x="1504.5" y="330.5" width="3" height="3" fill="#fff" stroke="#ff0000" stroke-width="1"/><rect x="1507.5" y="316.5" width="99" height="32" fill="#fff" stroke="#ff0000" stroke-width="1"/>
<g shape-rendering="geometricPrecision"><text x="1435.5" y="478.3" font-family="'Liberation Serif','Noto Serif CJK SC',serif" font-size="32.5" font-weight="bold" fill="#005000" textLength="164.5" lengthAdjust="spacingAndGlyphs" transform="translate(0.8,0.8)">多空转折点</text><text x="1435.5" y="478.3" font-family="'Liberation Serif','Noto Serif CJK SC',serif" font-size="32.5" font-weight="bold" fill="#00f000" textLength="164.5" lengthAdjust="spacingAndGlyphs">多空转折点</text></g>
</svg>
<div class="t" style="left:1633.6px;top:46.53px;font-size:10px;line-height:10px;color:#000;transform:scaleX(0.915);transform-origin:left top;font-weight:normal;">27379.5</div>
<div class="t" style="left:1633.6px;top:79.53px;font-size:10px;line-height:10px;color:#000;transform:scaleX(0.915);transform-origin:left top;font-weight:normal;">27231.0</div>
<div class="t" style="left:1633.6px;top:112.53px;font-size:10px;line-height:10px;color:#000;transform:scaleX(0.915);transform-origin:left top;font-weight:normal;">27078.0</div>
<div class="t" style="left:1633.6px;top:145.53px;font-size:10px;line-height:10px;color:#000;transform:scaleX(0.915);transform-origin:left top;font-weight:normal;">26929.5</div>
<div class="t" style="left:1633.6px;top:178.53px;font-size:10px;line-height:10px;color:#000;transform:scaleX(0.915);transform-origin:left top;font-weight:normal;">26781.0</div>
<div class="t" style="left:1633.6px;top:211.53px;font-size:10px;line-height:10px;color:#000;transform:scaleX(0.915);transform-origin:left top;font-weight:normal;">26632.5</div>
<div class="t" style="left:1633.6px;top:244.53px;font-size:10px;line-height:10px;color:#000;transform:scaleX(0.915);transform-origin:left top;font-weight:normal;">26479.5</div>
<div class="t" style="left:1633.6px;top:277.54px;font-size:10px;line-height:10px;color:#000;transform:scaleX(0.915);transform-origin:left top;font-weight:normal;">26331.0</div>
<div class="t" style="left:1633.6px;top:310.54px;font-size:10px;line-height:10px;color:#000;transform:scaleX(0.915);transform-origin:left top;font-weight:normal;">26182.5</div>
<div class="t" style="left:1633.6px;top:343.54px;font-size:10px;line-height:10px;color:#000;transform:scaleX(0.915);transform-origin:left top;font-weight:normal;">26029.5</div>
<div class="t" style="left:1633.6px;top:376.54px;font-size:10px;line-height:10px;color:#000;transform:scaleX(0.915);transform-origin:left top;font-weight:normal;">25881.0</div>
<div class="t" style="left:1633.6px;top:409.54px;font-size:10px;line-height:10px;color:#000;transform:scaleX(0.915);transform-origin:left top;font-weight:normal;">25732.5</div>
<div class="t" style="left:1633.6px;top:442.54px;font-size:10px;line-height:10px;color:#000;transform:scaleX(0.915);transform-origin:left top;font-weight:normal;">25584.0</div>
<div class="t" style="left:1633.6px;top:475.54px;font-size:10px;line-height:10px;color:#000;transform:scaleX(0.915);transform-origin:left top;font-weight:normal;">25431.0</div>
<div class="t" style="left:1633.6px;top:508.54px;font-size:10px;line-height:10px;color:#000;transform:scaleX(0.915);transform-origin:left top;font-weight:normal;">25282.5</div>
<div class="t" style="left:1633.6px;top:541.53px;font-size:10px;line-height:10px;color:#000;transform:scaleX(0.915);transform-origin:left top;font-weight:normal;">25134.0</div>
<div class="t" style="left:1633.6px;top:574.53px;font-size:10px;line-height:10px;color:#000;transform:scaleX(0.915);transform-origin:left top;font-weight:normal;">24985.5</div>
<div class="t" style="left:1632.2px;top:586.53px;font-size:10px;line-height:10px;color:#000;transform:scaleX(0.915);transform-origin:left top;font-weight:normal;">101.93</div>
<div class="t" style="left:1632.2px;top:618.53px;font-size:10px;line-height:10px;color:#000;transform:scaleX(0.915);transform-origin:left top;font-weight:normal;">0.00</div>
<div class="t" style="left:1632.2px;top:755.53px;font-size:10px;line-height:10px;color:#000;transform:scaleX(0.915);transform-origin:left top;font-weight:normal;">-393.59</div>
<div class="t" style="left:1632.2px;top:771.53px;font-size:10px;line-height:10px;color:#000;transform:scaleX(0.915);transform-origin:left top;font-weight:normal;">100</div>
<div class="t" style="left:1631.2px;top:797.53px;font-size:10px;line-height:10px;color:#000;transform:scaleX(0.915);transform-origin:left top;font-weight:normal;">80</div>
<div class="t" style="left:1631.2px;top:844.53px;font-size:10px;line-height:10px;color:#000;transform:scaleX(0.915);transform-origin:left top;font-weight:normal;">50</div>
<div class="t" style="left:1631.2px;top:900.53px;font-size:10px;line-height:10px;color:#000;transform:scaleX(0.915);transform-origin:left top;font-weight:normal;">15</div>
<div class="t" style="left:1632px;top:917.53px;font-size:10px;line-height:10px;color:#000;transform:scaleX(0.915);transform-origin:left top;font-weight:normal;">0</div>
<div style="position:absolute;left:1630px;top:284px;width:41px;height:11px;background:#ff0000"></div>
<div class="t" style="left:1633.6px;top:284.54px;font-size:10px;line-height:10px;color:#fff;transform:scaleX(0.915);transform-origin:left top;font-weight:normal;">26294.5</div>
<div style="position:absolute;left:1630px;top:307px;width:41px;height:11px;background:#ff0000"></div>
<div class="t" style="left:1633.6px;top:307.54px;font-size:10px;line-height:10px;color:#fff;transform:scaleX(0.915);transform-origin:left top;font-weight:normal;">26190.3</div>
<div style="position:absolute;left:1630px;top:326px;width:41px;height:11px;background:#22c322"></div>
<div class="t" style="left:1633.6px;top:326.54px;font-size:10px;line-height:10px;color:#fff;transform:scaleX(0.915);transform-origin:left top;font-weight:normal;">26104.2</div>
<div style="position:absolute;left:1630px;top:352px;width:41px;height:11px;background:#000"></div>
<div class="t" style="left:1633.6px;top:352.54px;font-size:10px;line-height:10px;color:#fff;transform:scaleX(0.915);transform-origin:left top;font-weight:normal;">25990.0</div>
<div style="position:absolute;left:1630px;top:385px;width:41px;height:11px;background:#0000ff"></div>
<div class="t" style="left:1633.6px;top:385.54px;font-size:10px;line-height:10px;color:#fff;transform:scaleX(0.915);transform-origin:left top;font-weight:normal;">25837.0</div>
<div style="position:absolute;left:1630px;top:420px;width:41px;height:11px;background:#0000ff"></div>
<div class="t" style="left:1633.6px;top:420.54px;font-size:10px;line-height:10px;color:#fff;transform:scaleX(0.915);transform-origin:left top;font-weight:normal;">25678.5</div>
<div class="t" style="left:-0.5px;top:933.53px;font-size:10px;line-height:10px;color:#000;transform:scaleX(0.93);transform-origin:left top;font-weight:normal;">19 Jul 2019</div>
<div class="t" style="left:63px;top:933.53px;font-size:10px;line-height:10px;color:#000;transform:scaleX(0.93);transform-origin:left top;font-weight:normal;">22 Jul 12:00</div>
<div class="t" style="left:127px;top:933.53px;font-size:10px;line-height:10px;color:#000;transform:scaleX(0.93);transform-origin:left top;font-weight:normal;">23 Jul 20:00</div>
<div class="t" style="left:191px;top:933.53px;font-size:10px;line-height:10px;color:#000;transform:scaleX(0.93);transform-origin:left top;font-weight:normal;">25 Jul 04:00</div>
<div class="t" style="left:255px;top:933.53px;font-size:10px;line-height:10px;color:#000;transform:scaleX(0.93);transform-origin:left top;font-weight:normal;">26 Jul 12:00</div>
<div class="t" style="left:319px;top:933.53px;font-size:10px;line-height:10px;color:#000;transform:scaleX(0.93);transform-origin:left top;font-weight:normal;">29 Jul 16:00</div>
<div class="t" style="left:383px;top:933.53px;font-size:10px;line-height:10px;color:#000;transform:scaleX(0.93);transform-origin:left top;font-weight:normal;">31 Jul 00:00</div>
<div class="t" style="left:447px;top:933.53px;font-size:10px;line-height:10px;color:#000;transform:scaleX(0.93);transform-origin:left top;font-weight:normal;">1 Aug 08:00</div>
<div class="t" style="left:511px;top:933.53px;font-size:10px;line-height:10px;color:#000;transform:scaleX(0.93);transform-origin:left top;font-weight:normal;">2 Aug 16:00</div>
<div class="t" style="left:575px;top:933.53px;font-size:10px;line-height:10px;color:#000;transform:scaleX(0.93);transform-origin:left top;font-weight:normal;">5 Aug 20:00</div>
<div class="t" style="left:639px;top:933.53px;font-size:10px;line-height:10px;color:#000;transform:scaleX(0.93);transform-origin:left top;font-weight:normal;">7 Aug 04:00</div>
<div class="t" style="left:703px;top:933.53px;font-size:10px;line-height:10px;color:#000;transform:scaleX(0.93);transform-origin:left top;font-weight:normal;">8 Aug 12:00</div>
<div class="t" style="left:767px;top:933.53px;font-size:10px;line-height:10px;color:#000;transform:scaleX(0.93);transform-origin:left top;font-weight:normal;">9 Aug 20:00</div>
<div class="t" style="left:831px;top:933.53px;font-size:10px;line-height:10px;color:#000;transform:scaleX(0.93);transform-origin:left top;font-weight:normal;">13 Aug 00:00</div>
<div class="t" style="left:895px;top:933.53px;font-size:10px;line-height:10px;color:#000;transform:scaleX(0.93);transform-origin:left top;font-weight:normal;">14 Aug 08:00</div>
<div class="t" style="left:959px;top:933.53px;font-size:10px;line-height:10px;color:#000;transform:scaleX(0.93);transform-origin:left top;font-weight:normal;">15 Aug 16:00</div>
<div class="t" style="left:1023px;top:933.53px;font-size:10px;line-height:10px;color:#000;transform:scaleX(0.93);transform-origin:left top;font-weight:normal;">18 Aug 23:00</div>
<div class="t" style="left:1087px;top:933.53px;font-size:10px;line-height:10px;color:#000;transform:scaleX(0.93);transform-origin:left top;font-weight:normal;">20 Aug 04:00</div>
<div class="t" style="left:1151px;top:933.53px;font-size:10px;line-height:10px;color:#000;transform:scaleX(0.93);transform-origin:left top;font-weight:normal;">21 Aug 12:00</div>
<div class="t" style="left:1215px;top:933.53px;font-size:10px;line-height:10px;color:#000;transform:scaleX(0.93);transform-origin:left top;font-weight:normal;">22 Aug 20:00</div>
<div class="t" style="left:1279px;top:933.53px;font-size:10px;line-height:10px;color:#000;transform:scaleX(0.93);transform-origin:left top;font-weight:normal;">26 Aug 00:00</div>
<div class="t" style="left:1343px;top:933.53px;font-size:10px;line-height:10px;color:#000;transform:scaleX(0.93);transform-origin:left top;font-weight:normal;">27 Aug 08:00</div>
<div class="t" style="left:1407px;top:933.53px;font-size:10px;line-height:10px;color:#000;transform:scaleX(0.93);transform-origin:left top;font-weight:normal;">28 Aug 16:00</div>
<div class="t" style="left:15.2px;top:32.53px;font-size:10px;line-height:10px;color:#000;transform:scaleX(0.926);transform-origin:left top;font-weight:normal;">DJ30-,H4&nbsp; 25990.0 25990.0 25990.0 25990.0</div>
<div class="t" style="left:3.6px;top:588.53px;font-size:10px;line-height:10px;color:#000;transform:scaleX(0.945);transform-origin:left top;font-weight:normal;">MACD(12,26,9) -5.59 -41.00</div>
<div class="t" style="left:3.4px;top:774.53px;font-size:10px;line-height:10px;color:#000;transform:scaleX(0.968);transform-origin:left top;font-weight:normal;">RSI(14) 53.7242</div>
<div class="t" style="left:1507.7px;top:318.2px;font-size:29.6px;line-height:29.6px;color:#ff0000;transform:scaleX(0.933);transform-origin:left top">26104.2</div>
<svg style="position:absolute;left:0;top:30px" width="14" height="14"><polygon points="3,9.7 10,9.7 6.5,5.7" fill="#000"/></svg>

<div style="position:absolute;left:1px;top:47px;width:223px;height:68px;background:#fff"></div>
<div class="rb" style="left:3px;top:49px;width:52px;height:25px;background:linear-gradient(#f85050,#e03434)"></div>
<div class="rb" style="left:170px;top:49px;width:52px;height:25px;background:linear-gradient(#f85050,#e03434)"></div>
<div class="rb" style="left:3px;top:73px;width:109px;height:40px;background:linear-gradient(#e03232,#b00000)"></div>
<div class="rb" style="left:114px;top:73px;width:108px;height:40px;background:linear-gradient(#e03232,#b00000)"></div>
<div style="position:absolute;left:112px;top:74px;width:2px;height:39px;background:#fff"></div>
<div style="position:absolute;left:4px;top:71px;width:50px;height:4px;background:#e33636"></div>
<div style="position:absolute;left:171px;top:71px;width:50px;height:4px;background:#e33636"></div>
<div style="position:absolute;left:7px;top:72px;width:44px;height:1px;background:#9c0c0c"></div>
<div style="position:absolute;left:7px;top:73px;width:44px;height:1px;background:#f88"></div>
<div style="position:absolute;left:174px;top:72px;width:44px;height:1px;background:#9c0c0c"></div>
<div style="position:absolute;left:174px;top:73px;width:44px;height:1px;background:#f88"></div>
<div style="position:absolute;left:57px;top:49px;width:111px;height:22px;border:1px solid #a8a8a8;background:#fff;box-sizing:border-box"></div>
<div style="position:absolute;left:58px;top:50px;width:20px;height:20px;background:#ececec;border-right:1px solid #b8b8b8"></div>
<div style="position:absolute;left:146px;top:50px;width:21px;height:20px;background:#ececec;border-left:1px solid #b8b8b8"></div>
<svg style="position:absolute;left:57px;top:49px" width="110" height="21"><polygon points="7.5,9 13.5,9 10.5,12.5" fill="#000"/><polygon points="96.5,12 102.5,12 99.5,8.5" fill="#000"/></svg>
<div class="t" style="left:15.2px;top:54.8px;font-size:12.3px;line-height:12.3px;color:#fff;font-weight:normal;transform:scaleX(0.87);transform-origin:left top">SELL</div>
<div class="t" style="left:183.5px;top:54.8px;font-size:12.3px;line-height:12.3px;color:#fff;font-weight:normal;transform:scaleX(0.93);transform-origin:left top">BUY</div>
<div class="t" style="left:119.5px;top:53px;font-size:13px;line-height:13px;color:#000;font-weight:normal;transform:scaleX(0.93);transform-origin:left top">1.00</div>
<div class="t" style="left:18.6px;top:93.6px;font-size:12px;line-height:12px;color:#fff;font-weight:bold;transform:scaleX(1.07);transform-origin:left top">25988</div>
<div class="t" style="left:128.6px;top:93.6px;font-size:12px;line-height:12px;color:#fff;font-weight:bold;transform:scaleX(1.07);transform-origin:left top">25997</div>
<div class="t" style="left:55.7px;top:75.4px;font-size:36px;line-height:36px;color:#fff;font-weight:normal;transform:scaleX(1);transform-origin:left top">.</div>
<div class="t" style="left:64.3px;top:74.6px;font-size:35px;line-height:35px;color:#fff;font-weight:normal;transform:scaleX(0.875);transform-origin:left top">5</div>
<div class="t" style="left:166.4px;top:75.4px;font-size:36px;line-height:36px;color:#fff;font-weight:normal;transform:scaleX(1);transform-origin:left top">.</div>
<div class="t" style="left:175.9px;top:74.6px;font-size:35px;line-height:35px;color:#fff;font-weight:normal;transform:scaleX(0.875);transform-origin:left top">5</div>
</body></html>
